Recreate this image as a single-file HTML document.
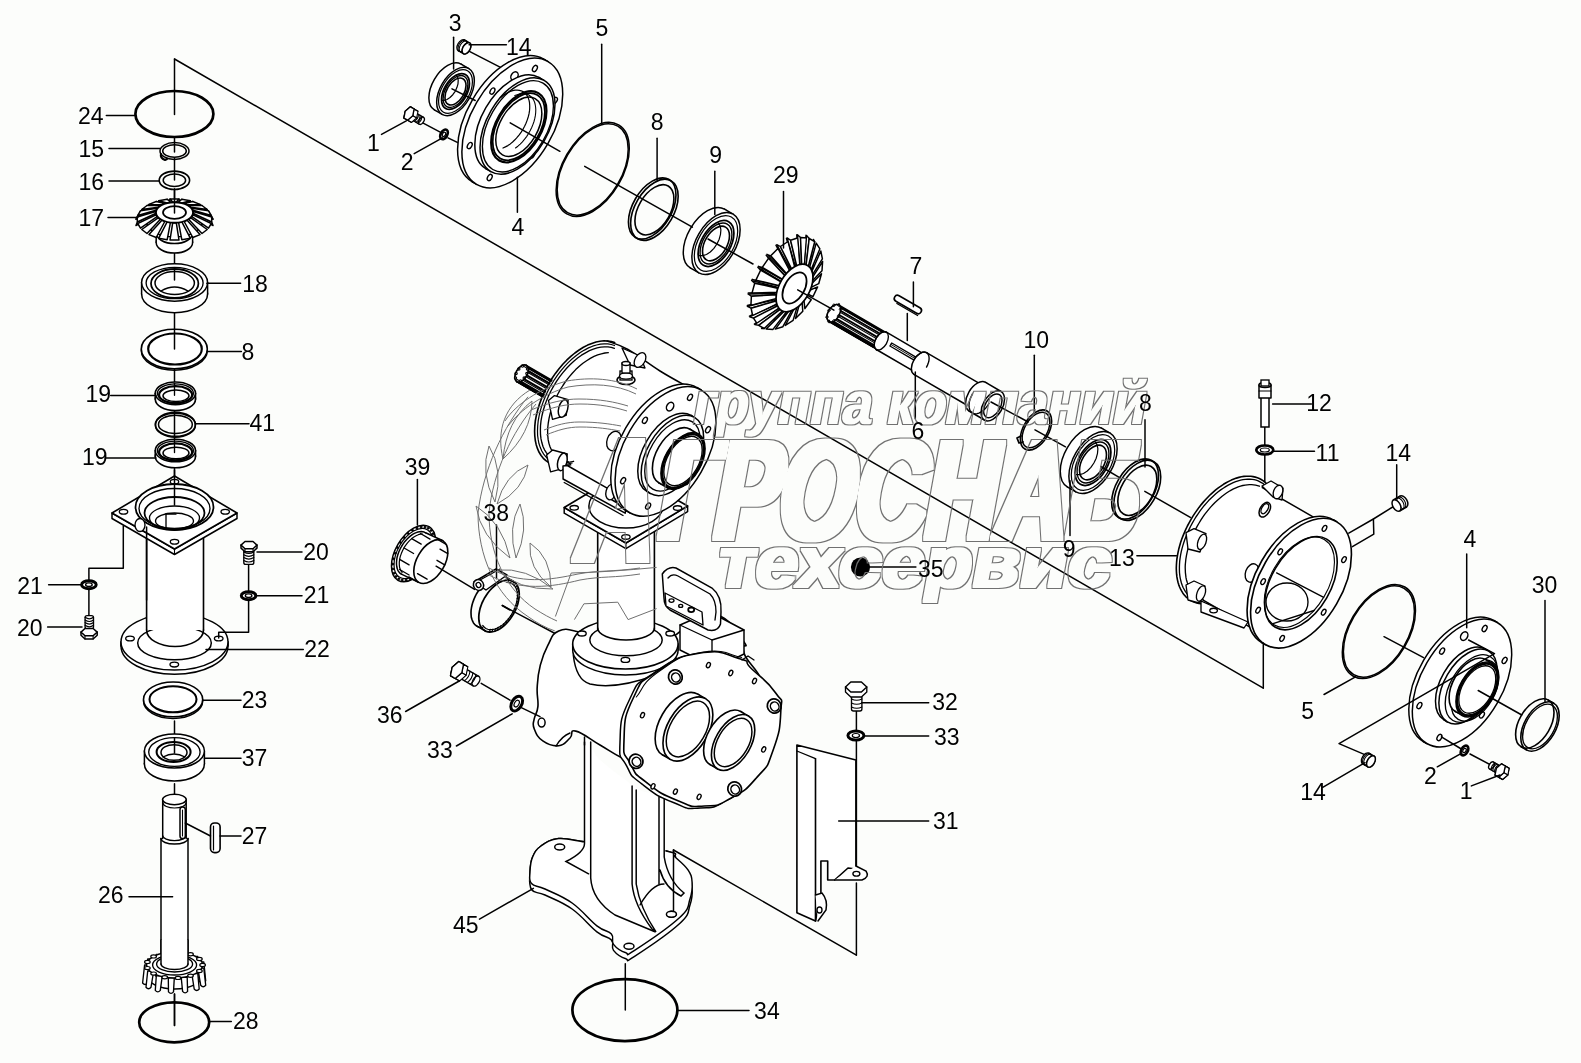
<!DOCTYPE html>
<html><head><meta charset="utf-8"><style>
html,body{margin:0;padding:0;background:#fcfdfb;}
svg{display:block;}
text{font-family:"Liberation Sans",sans-serif;font-size:23px;fill:#000;}
</style></head><body>
<svg width="1581" height="1063" viewBox="0 0 1581 1063">
<rect width="1581" height="1063" fill="#fcfdfb"/>
<g stroke-linecap="round">
<line x1="174.5" y1="59" x2="174.5" y2="114.4" stroke="#000" stroke-width="1.49" />
<line x1="174.5" y1="137" x2="174.5" y2="152" stroke="#000" stroke-width="1.49" />
<line x1="174.5" y1="158" x2="174.5" y2="180" stroke="#000" stroke-width="1.49" />
<line x1="174.5" y1="189" x2="174.5" y2="213" stroke="#000" stroke-width="1.49" />
<line x1="174.5" y1="253" x2="174.5" y2="280" stroke="#000" stroke-width="1.49" />
<line x1="174.5" y1="312" x2="174.5" y2="349" stroke="#000" stroke-width="1.49" />
<line x1="174.5" y1="369" x2="174.5" y2="530" stroke="#000" stroke-width="1.49" />
<line x1="174.5" y1="721" x2="174.5" y2="753.3" stroke="#000" stroke-width="1.49" />
<line x1="174.5" y1="783.8" x2="174.5" y2="800.4" stroke="#000" stroke-width="1.49" />
<line x1="174.5" y1="994" x2="174.5" y2="1025.4" stroke="#000" stroke-width="1.49" />
<ellipse cx="174.4" cy="114" rx="39" ry="23" stroke="#000" stroke-width="2.70" fill="none" />
<ellipse cx="174.5" cy="151" rx="14.5" ry="8.4" stroke="#000" stroke-width="1.49" fill="none" />
<ellipse cx="174.5" cy="151" rx="11.8" ry="6.3" stroke="#000" stroke-width="1.49" fill="none" />
<path d="M161,154 q-1,4 4,6 l2,-1" stroke="#000" stroke-width="2.16" fill="none" stroke-linejoin="round" />
<ellipse cx="174.4" cy="180.3" rx="15.2" ry="9.2" stroke="#000" stroke-width="1.62" fill="none" />
<ellipse cx="174.4" cy="180.3" rx="11.2" ry="6.2" stroke="#000" stroke-width="1.49" fill="none" />
<ellipse cx="174.4" cy="242.5" rx="18.2" ry="10.6" stroke="#000" stroke-width="1.49" fill="#fff" />
<rect x="156.2" y="233" width="36.4" height="9.5" fill="#fff"/>
<line x1="156.2" y1="233" x2="156.2" y2="242.5" stroke="#000" stroke-width="1.49" />
<line x1="192.6" y1="233" x2="192.6" y2="242.5" stroke="#000" stroke-width="1.49" />
<ellipse cx="174.4" cy="233" rx="18.2" ry="10.6" stroke="#000" stroke-width="1.49" fill="#fff" />
<ellipse cx="174.5" cy="221.5" rx="28" ry="15.4" stroke="#000" stroke-width="1.62" fill="#fff" />
<polygon points="176.3,202.1 179,199 180.1,201.3 176.9,203.4" stroke="#000" stroke-width="1.35" fill="#fff" stroke-linejoin="round" />
<polygon points="172.7,202.1 170,199 168.9,201.3 172.1,203.4" stroke="#000" stroke-width="1.35" fill="#fff" stroke-linejoin="round" />
<polygon points="172.7,202.1 170,199 179,199 176.3,202.1" stroke="#000" stroke-width="1.49" fill="#fff" stroke-linejoin="round" />
<polygon points="182,202.9 190.3,200.8 191.8,203.3 182.9,204.3" stroke="#000" stroke-width="1.35" fill="#fff" stroke-linejoin="round" />
<polygon points="178.6,202.3 181.8,199.3 181.1,201.4 178.4,203.5" stroke="#000" stroke-width="1.35" fill="#fff" stroke-linejoin="round" />
<polygon points="178.6,202.3 181.8,199.3 190.3,200.8 182,202.9" stroke="#000" stroke-width="1.49" fill="#fff" stroke-linejoin="round" />
<polygon points="170.4,202.3 167.2,199.3 167.9,201.4 170.6,203.5" stroke="#000" stroke-width="1.35" fill="#fff" stroke-linejoin="round" />
<polygon points="167,202.9 158.7,200.8 157.2,203.3 166.1,204.3" stroke="#000" stroke-width="1.35" fill="#fff" stroke-linejoin="round" />
<polygon points="167,202.9 158.7,200.8 167.2,199.3 170.4,202.3" stroke="#000" stroke-width="1.49" fill="#fff" stroke-linejoin="round" />
<polygon points="187.1,204.7 200,204.4 201.7,207.1 188.1,206.2" stroke="#000" stroke-width="1.35" fill="#fff" stroke-linejoin="round" />
<polygon points="184.2,203.5 192.8,201.5 192.6,203.5 184.2,204.7" stroke="#000" stroke-width="1.35" fill="#fff" stroke-linejoin="round" />
<polygon points="184.2,203.5 192.8,201.5 200,204.4 187.1,204.7" stroke="#000" stroke-width="1.49" fill="#fff" stroke-linejoin="round" />
<polygon points="164.8,203.5 156.2,201.5 156.4,203.5 164.8,204.7" stroke="#000" stroke-width="1.35" fill="#fff" stroke-linejoin="round" />
<polygon points="161.9,204.7 149,204.4 147.3,207.1 160.9,206.2" stroke="#000" stroke-width="1.35" fill="#fff" stroke-linejoin="round" />
<polygon points="161.9,204.7 149,204.4 156.2,201.5 164.8,203.5" stroke="#000" stroke-width="1.49" fill="#fff" stroke-linejoin="round" />
<polygon points="190.9,207.2 207.2,209.5 209,212.5 192,208.9" stroke="#000" stroke-width="1.35" fill="#fff" stroke-linejoin="round" />
<polygon points="188.8,205.6 202,205.5 202.4,207.5 189.2,206.8" stroke="#000" stroke-width="1.35" fill="#fff" stroke-linejoin="round" />
<polygon points="188.8,205.6 202,205.5 207.2,209.5 190.9,207.2" stroke="#000" stroke-width="1.49" fill="#fff" stroke-linejoin="round" />
<polygon points="160.2,205.6 147,205.5 146.6,207.5 159.8,206.8" stroke="#000" stroke-width="1.35" fill="#fff" stroke-linejoin="round" />
<polygon points="158.1,207.2 141.8,209.5 140,212.5 157,208.9" stroke="#000" stroke-width="1.35" fill="#fff" stroke-linejoin="round" />
<polygon points="158.1,207.2 141.8,209.5 147,205.5 160.2,205.6" stroke="#000" stroke-width="1.49" fill="#fff" stroke-linejoin="round" />
<polygon points="193,210.2 211.3,215.5 212.9,218.9 194.1,212.2" stroke="#000" stroke-width="1.35" fill="#fff" stroke-linejoin="round" />
<polygon points="191.9,208.3 208.5,210.8 209.5,213 192.6,209.7" stroke="#000" stroke-width="1.35" fill="#fff" stroke-linejoin="round" />
<polygon points="191.9,208.3 208.5,210.8 211.3,215.5 193,210.2" stroke="#000" stroke-width="1.49" fill="#fff" stroke-linejoin="round" />
<polygon points="157.1,208.3 140.5,210.8 139.5,213 156.4,209.7" stroke="#000" stroke-width="1.35" fill="#fff" stroke-linejoin="round" />
<polygon points="156,210.2 137.7,215.5 136.1,218.9 154.9,212.2" stroke="#000" stroke-width="1.35" fill="#fff" stroke-linejoin="round" />
<polygon points="156,210.2 137.7,215.5 140.5,210.8 157.1,208.3" stroke="#000" stroke-width="1.49" fill="#fff" stroke-linejoin="round" />
<polygon points="193.4,213.5 211.7,222 213.1,225.6 194.4,215.6" stroke="#000" stroke-width="1.35" fill="#fff" stroke-linejoin="round" />
<polygon points="193.4,211.5 211.7,217 213.1,219.4 194.4,213" stroke="#000" stroke-width="1.35" fill="#fff" stroke-linejoin="round" />
<polygon points="193.4,211.5 211.7,217 211.7,222 193.4,213.5" stroke="#000" stroke-width="1.49" fill="#fff" stroke-linejoin="round" />
<polygon points="155.6,211.5 137.3,217 135.9,219.4 154.6,213" stroke="#000" stroke-width="1.35" fill="#fff" stroke-linejoin="round" />
<polygon points="155.6,213.5 137.3,222 135.9,225.6 154.6,215.6" stroke="#000" stroke-width="1.35" fill="#fff" stroke-linejoin="round" />
<polygon points="155.6,213.5 137.3,222 137.3,217 155.6,211.5" stroke="#000" stroke-width="1.49" fill="#fff" stroke-linejoin="round" />
<polygon points="193,214.8 211.3,223.5 208.5,228.2 191.9,216.7" stroke="#000" stroke-width="1.49" fill="#fff" stroke-linejoin="round" />
<polygon points="157.1,216.7 140.5,228.2 137.7,223.5 156,214.8" stroke="#000" stroke-width="1.49" fill="#fff" stroke-linejoin="round" />
<polygon points="190.9,217.8 207.2,229.5 202,233.5 188.8,219.4" stroke="#000" stroke-width="1.49" fill="#fff" stroke-linejoin="round" />
<polygon points="160.2,219.4 147,233.5 141.8,229.5 158.1,217.8" stroke="#000" stroke-width="1.49" fill="#fff" stroke-linejoin="round" />
<polygon points="187.1,220.3 200,234.6 192.8,237.5 184.2,221.5" stroke="#000" stroke-width="1.49" fill="#fff" stroke-linejoin="round" />
<polygon points="164.8,221.5 156.2,237.5 149,234.6 161.9,220.3" stroke="#000" stroke-width="1.49" fill="#fff" stroke-linejoin="round" />
<polygon points="182,222.1 190.3,238.2 181.8,239.7 178.6,222.7" stroke="#000" stroke-width="1.49" fill="#fff" stroke-linejoin="round" />
<polygon points="170.4,222.7 167.2,239.7 158.7,238.2 167,222.1" stroke="#000" stroke-width="1.49" fill="#fff" stroke-linejoin="round" />
<polygon points="176.3,222.9 179,240 170,240 172.7,222.9" stroke="#000" stroke-width="1.49" fill="#fff" stroke-linejoin="round" />
<ellipse cx="174.5" cy="212.5" rx="18.5" ry="10.2" stroke="#000" stroke-width="1.76" fill="#fff" />
<ellipse cx="174.5" cy="212.5" rx="11.5" ry="6.3" stroke="#000" stroke-width="1.76" fill="#fff" />
<line x1="174.5" y1="189" x2="174.5" y2="213" stroke="#000" stroke-width="1.49" />
<ellipse cx="174.6" cy="294" rx="33" ry="18.7" stroke="#000" stroke-width="1.49" fill="#fff" />
<rect x="141.6" y="282.5" width="66" height="11.5" fill="#fff"/>
<line x1="141.6" y1="282.5" x2="141.6" y2="294" stroke="#000" stroke-width="1.49" />
<line x1="207.6" y1="282.5" x2="207.6" y2="294" stroke="#000" stroke-width="1.49" />
<ellipse cx="174.6" cy="282.5" rx="33" ry="18.7" stroke="#000" stroke-width="1.49" fill="#fff" />
<ellipse cx="174.6" cy="283" rx="28.5" ry="15.7" stroke="#000" stroke-width="1.35" fill="none" />
<ellipse cx="174.7" cy="283.5" rx="23.7" ry="14.5" stroke="#000" stroke-width="1.76" fill="none" />
<ellipse cx="174.7" cy="283" rx="19.7" ry="11.5" stroke="#000" stroke-width="1.49" fill="#fff" />
<path d="M161,291 Q174.5,283 188,291" stroke="#000" stroke-width="1.35" fill="none" stroke-linejoin="round" />
<line x1="174.5" y1="270" x2="174.5" y2="280" stroke="#000" stroke-width="1.49" />
<ellipse cx="174.3" cy="350.5" rx="33" ry="19.7" stroke="#000" stroke-width="1.49" fill="none" />
<ellipse cx="174.3" cy="349" rx="33" ry="19.7" stroke="#000" stroke-width="1.62" fill="#fff" />
<ellipse cx="175" cy="349" rx="26.8" ry="15.5" stroke="#000" stroke-width="2.16" fill="none" />
<line x1="174.5" y1="330" x2="174.5" y2="349" stroke="#000" stroke-width="1.49" />
<ellipse cx="175.4" cy="399.3" rx="20.1" ry="11.3" stroke="#000" stroke-width="1.62" fill="#fff" />
<rect x="155.3" y="393.3" width="40.2" height="6" fill="#fff"/>
<line x1="155.3" y1="393.3" x2="155.3" y2="399.3" stroke="#000" stroke-width="1.62" />
<line x1="195.5" y1="393.3" x2="195.5" y2="399.3" stroke="#000" stroke-width="1.62" />
<ellipse cx="175.4" cy="393.3" rx="20.1" ry="11.3" stroke="#000" stroke-width="1.62" fill="#fff" />
<ellipse cx="175.4" cy="393.3" rx="18" ry="9.4" stroke="#000" stroke-width="1.35" fill="none" />
<ellipse cx="175.6" cy="394.8" rx="16.5" ry="8.6" stroke="#000" stroke-width="2.16" fill="none" />
<ellipse cx="176" cy="395.8" rx="13" ry="5.8" stroke="#000" stroke-width="1.49" fill="#fff" />
<line x1="174.5" y1="383.3" x2="174.5" y2="395.3" stroke="#000" stroke-width="1.35" />
<ellipse cx="175.4" cy="456.5" rx="20.1" ry="11.3" stroke="#000" stroke-width="1.62" fill="#fff" />
<rect x="155.3" y="450.5" width="40.2" height="6" fill="#fff"/>
<line x1="155.3" y1="450.5" x2="155.3" y2="456.5" stroke="#000" stroke-width="1.62" />
<line x1="195.5" y1="450.5" x2="195.5" y2="456.5" stroke="#000" stroke-width="1.62" />
<ellipse cx="175.4" cy="450.5" rx="20.1" ry="11.3" stroke="#000" stroke-width="1.62" fill="#fff" />
<ellipse cx="175.4" cy="450.5" rx="18" ry="9.4" stroke="#000" stroke-width="1.35" fill="none" />
<ellipse cx="175.6" cy="452" rx="16.5" ry="8.6" stroke="#000" stroke-width="2.16" fill="none" />
<ellipse cx="176" cy="453" rx="13" ry="5.8" stroke="#000" stroke-width="1.49" fill="#fff" />
<line x1="174.5" y1="440.5" x2="174.5" y2="452.5" stroke="#000" stroke-width="1.35" />
<ellipse cx="175.4" cy="425.2" rx="20" ry="12" stroke="#000" stroke-width="1.49" fill="none" />
<ellipse cx="175.4" cy="424.4" rx="20" ry="12" stroke="#000" stroke-width="1.62" fill="none" />
<ellipse cx="175.4" cy="424.4" rx="16.9" ry="9.2" stroke="#000" stroke-width="1.49" fill="none" />
<ellipse cx="174.5" cy="646" rx="53.5" ry="28.3" stroke="#000" stroke-width="1.49" fill="#fff" />
<rect x="121" y="641.8" width="107" height="4.2" fill="#fff"/>
<line x1="121" y1="641.8" x2="121" y2="646" stroke="#000" stroke-width="1.49" />
<line x1="228" y1="641.8" x2="228" y2="646" stroke="#000" stroke-width="1.49" />
<ellipse cx="174.5" cy="641.8" rx="53.5" ry="28.3" stroke="#000" stroke-width="1.49" fill="#fff" />
<ellipse cx="174.5" cy="643" rx="36.8" ry="16.7" stroke="#000" stroke-width="1.49" fill="#fff" />
<ellipse cx="130" cy="638.5" rx="4.3" ry="2.4" stroke="#000" stroke-width="1.35" fill="#fff" />
<ellipse cx="218.7" cy="638.5" rx="4.3" ry="2.4" stroke="#000" stroke-width="1.35" fill="#fff" />
<ellipse cx="174.3" cy="664.6" rx="4.3" ry="2.4" stroke="#000" stroke-width="1.35" fill="#fff" />
<rect x="146.6" y="530" width="57" height="100" fill="#fff"/>
<line x1="146.6" y1="530" x2="146.6" y2="630" stroke="#000" stroke-width="1.62" />
<line x1="203.5" y1="530" x2="203.5" y2="630" stroke="#000" stroke-width="1.62" />
<path d="M146.6,630 A28.45,16.5 0 0 0 203.5,630" stroke="#000" stroke-width="1.62" fill="none" stroke-linejoin="round" />
<polygon points="112,513 112,518.5 174.5,554.5 237,518.5 237,513 174.5,549" stroke="#000" stroke-width="1.49" fill="#fff" stroke-linejoin="round" />
<line x1="174.5" y1="549" x2="174.5" y2="554.5" stroke="#000" stroke-width="1.08" />
<polygon points="174.5,476 112,513 174.5,549 237,513" stroke="#000" stroke-width="1.62" fill="#fff" stroke-linejoin="round" />
<ellipse cx="123.5" cy="511.7" rx="4.2" ry="2.4" stroke="#000" stroke-width="1.35" fill="#fff" />
<ellipse cx="225.2" cy="511.7" rx="4.2" ry="2.4" stroke="#000" stroke-width="1.35" fill="#fff" />
<ellipse cx="174.5" cy="481.7" rx="4.2" ry="2.4" stroke="#000" stroke-width="1.35" fill="#fff" />
<ellipse cx="174.5" cy="541.7" rx="4.2" ry="2.4" stroke="#000" stroke-width="1.35" fill="#fff" />
<ellipse cx="174.5" cy="507" rx="39" ry="23" stroke="#000" stroke-width="1.76" fill="#fff" />
<ellipse cx="174.5" cy="508.5" rx="35.5" ry="20" stroke="#000" stroke-width="1.35" fill="none" />
<ellipse cx="174.5" cy="513" rx="30" ry="16" stroke="#000" stroke-width="1.76" fill="none" />
<ellipse cx="174.5" cy="518" rx="25" ry="12" stroke="#000" stroke-width="1.35" fill="none" />
<ellipse cx="174.5" cy="521" rx="19" ry="8" stroke="#000" stroke-width="1.35" fill="none" />
<ellipse cx="140" cy="525" rx="5" ry="6.5" stroke="#000" stroke-width="1.35" fill="#fff" />
<line x1="174.5" y1="470" x2="174.5" y2="505" stroke="#000" stroke-width="1.49" />
<line x1="166" y1="514" x2="166" y2="528" stroke="#000" stroke-width="1.35" />
<line x1="166" y1="514" x2="176" y2="514" stroke="#000" stroke-width="1.35" />
<line x1="146.6" y1="527" x2="146.6" y2="600" stroke="#000" stroke-width="1.49" />
<polyline points="123.3,526 123.3,568.2 88.9,568.2 88.9,580.7" stroke="#000" stroke-width="1.49" fill="none" stroke-linejoin="round" />
<line x1="88.9" y1="588.7" x2="88.9" y2="615.6" stroke="#000" stroke-width="1.49" />
<line x1="248.6" y1="564.4" x2="248.6" y2="591.7" stroke="#000" stroke-width="1.49" />
<polyline points="248.6,599.7 248.6,632.3 218.7,632.3 218.7,638" stroke="#000" stroke-width="1.49" fill="none" stroke-linejoin="round" />
<ellipse cx="88.9" cy="584.7" rx="7.3" ry="4" stroke="#000" stroke-width="2.97" fill="#fff" />
<ellipse cx="88.9" cy="584.7" rx="3.3" ry="1.8" stroke="#000" stroke-width="1.35" fill="#fff" />
<ellipse cx="248.6" cy="595.7" rx="7.3" ry="4" stroke="#000" stroke-width="2.97" fill="#fff" />
<ellipse cx="248.6" cy="595.7" rx="3.3" ry="1.8" stroke="#000" stroke-width="1.35" fill="#fff" />
<rect x="85.1" y="615.6" width="8.4" height="13.4" fill="#fff" stroke="#000" stroke-width="1.35" rx="2"/>
<path d="M85.1,617.3 Q89.3,620.3 93.5,617.3" stroke="#000" stroke-width="1.22" fill="none" stroke-linejoin="round" />
<path d="M85.1,620 Q89.3,623 93.5,620" stroke="#000" stroke-width="1.22" fill="none" stroke-linejoin="round" />
<path d="M85.1,622.6 Q89.3,625.6 93.5,622.6" stroke="#000" stroke-width="1.22" fill="none" stroke-linejoin="round" />
<path d="M85.1,625.3 Q89.3,628.3 93.5,625.3" stroke="#000" stroke-width="1.22" fill="none" stroke-linejoin="round" />
<polygon points="81,632.1 81,635.3 85,639 93.1,639 97.2,635.3 97.2,632.1" stroke="#000" stroke-width="1.49" fill="#fff" stroke-linejoin="round" />
<polygon points="81,632.1 85,628.5 93.1,628.5 97.2,632.1 93.1,635.8 85,635.8" stroke="#000" stroke-width="1.49" fill="#fff" stroke-linejoin="round" />
<line x1="85" y1="635.8" x2="85" y2="639" stroke="#000" stroke-width="1.08" />
<line x1="93.1" y1="635.8" x2="93.1" y2="639" stroke="#000" stroke-width="1.08" />
<rect x="243.8" y="550" width="10" height="14.4" fill="#fff" stroke="#000" stroke-width="1.35" rx="2"/>
<path d="M243.8,551.9 Q248.8,554.9 253.8,551.9" stroke="#000" stroke-width="1.22" fill="none" stroke-linejoin="round" />
<path d="M243.8,554.8 Q248.8,557.8 253.8,554.8" stroke="#000" stroke-width="1.22" fill="none" stroke-linejoin="round" />
<path d="M243.8,557.6 Q248.8,560.6 253.8,557.6" stroke="#000" stroke-width="1.22" fill="none" stroke-linejoin="round" />
<path d="M243.8,560.5 Q248.8,563.5 253.8,560.5" stroke="#000" stroke-width="1.22" fill="none" stroke-linejoin="round" />
<polygon points="241,545.1 241,548.1 245,551.7 253,551.7 257,548.1 257,545.1" stroke="#000" stroke-width="1.49" fill="#fff" stroke-linejoin="round" />
<polygon points="241,545.1 245,541.5 253,541.5 257,545.1 253,548.7 245,548.7" stroke="#000" stroke-width="1.49" fill="#fff" stroke-linejoin="round" />
<line x1="245" y1="548.7" x2="245" y2="551.7" stroke="#000" stroke-width="1.08" />
<line x1="253" y1="548.7" x2="253" y2="551.7" stroke="#000" stroke-width="1.08" />
<ellipse cx="173.1" cy="701" rx="29.6" ry="17.4" stroke="#000" stroke-width="1.49" fill="none" />
<ellipse cx="173.1" cy="699.4" rx="29.6" ry="17.4" stroke="#000" stroke-width="1.62" fill="#fff" />
<ellipse cx="173" cy="699.3" rx="23.5" ry="13" stroke="#000" stroke-width="2.03" fill="none" />
<ellipse cx="174.4" cy="764" rx="30" ry="17" stroke="#000" stroke-width="1.49" fill="#fff" />
<rect x="144.4" y="751" width="60" height="13" fill="#fff"/>
<line x1="144.4" y1="751" x2="144.4" y2="764" stroke="#000" stroke-width="1.49" />
<line x1="204.4" y1="751" x2="204.4" y2="764" stroke="#000" stroke-width="1.49" />
<ellipse cx="174.4" cy="751" rx="30" ry="17" stroke="#000" stroke-width="1.49" fill="#fff" />
<ellipse cx="174.4" cy="752" rx="25.7" ry="14.4" stroke="#000" stroke-width="1.35" fill="none" />
<ellipse cx="173.6" cy="752" rx="17" ry="10" stroke="#000" stroke-width="2.03" fill="none" />
<ellipse cx="174" cy="752.5" rx="13" ry="7.8" stroke="#000" stroke-width="1.49" fill="#fff" />
<path d="M163,757 Q174,751 185,757" stroke="#000" stroke-width="1.35" fill="none" stroke-linejoin="round" />
<line x1="174.5" y1="738" x2="174.5" y2="753" stroke="#000" stroke-width="1.49" />
<rect x="161" y="838" width="27" height="128" fill="#fff"/>
<line x1="161" y1="838.6" x2="161" y2="966" stroke="#000" stroke-width="1.49" />
<line x1="188" y1="838.6" x2="188" y2="966" stroke="#000" stroke-width="1.49" />
<rect x="162.7" y="799.5" width="23.5" height="39" fill="#fff"/>
<line x1="162.7" y1="799.5" x2="162.7" y2="838.6" stroke="#000" stroke-width="1.49" />
<line x1="186.2" y1="799.5" x2="186.2" y2="838.6" stroke="#000" stroke-width="1.49" />
<path d="M161,838.6 A13.5,5.5 0 0 0 188,838.6" stroke="#000" stroke-width="1.49" fill="none" stroke-linejoin="round" />
<path d="M162.7,835.6 A11.75,5 0 0 0 186.2,835.6" stroke="#000" stroke-width="1.22" fill="none" stroke-linejoin="round" />
<ellipse cx="174.4" cy="799.5" rx="11.8" ry="5.2" stroke="#000" stroke-width="1.49" fill="#fff" />
<path d="M163,803 A11.5,5 0 0 0 186,803" stroke="#000" stroke-width="1.22" fill="none" stroke-linejoin="round" />
<rect x="180" y="807" width="5.3" height="31.6" rx="2.6" fill="#fff" stroke="#000" stroke-width="1.49"/>
<line x1="182.5" y1="810" x2="182.5" y2="836" stroke="#000" stroke-width="1.08" />
<rect x="210.5" y="823" width="9.6" height="29.6" rx="4" fill="#fff" stroke="#000" stroke-width="1.62"/>
<line x1="213.5" y1="826" x2="213.5" y2="850" stroke="#000" stroke-width="1.22" />
<ellipse cx="174.6" cy="975" rx="28" ry="14" stroke="#000" stroke-width="1.49" fill="#fff" />
<path d="M168.3,952.1 L168.5,974.1 Q171,977.1 173.5,974.1 L174.3,952.1 Z" stroke="#000" stroke-width="1.35" fill="#fff" stroke-linejoin="round" />
<path d="M181.2,952.8 L182.6,974.6 Q185.1,977.6 187.6,974.6 L187.2,952.8 Z" stroke="#000" stroke-width="1.35" fill="#fff" stroke-linejoin="round" />
<path d="M156.3,954.3 L155.3,975.6 Q157.8,978.6 160.3,975.6 L162.3,954.3 Z" stroke="#000" stroke-width="1.35" fill="#fff" stroke-linejoin="round" />
<path d="M191.8,956.4 L194.2,977 Q196.7,980 199.2,977 L197.8,956.4 Z" stroke="#000" stroke-width="1.35" fill="#fff" stroke-linejoin="round" />
<path d="M147.7,959 L146,978.8 Q148.5,981.8 151,978.8 L153.7,959 Z" stroke="#000" stroke-width="1.35" fill="#fff" stroke-linejoin="round" />
<path d="M197.8,961.9 L200.7,980.8 Q203.2,983.8 205.7,980.8 L203.8,961.9 Z" stroke="#000" stroke-width="1.35" fill="#fff" stroke-linejoin="round" />
<path d="M144.6,965 L142.6,983 Q145.1,986 147.6,983 L150.6,965 Z" stroke="#000" stroke-width="1.35" fill="#fff" stroke-linejoin="round" />
<path d="M197.8,968.1 L200.7,985.2 Q203.2,988.2 205.7,985.2 L203.8,968.1 Z" stroke="#000" stroke-width="1.35" fill="#fff" stroke-linejoin="round" />
<path d="M147.7,971 L146,987.2 Q148.5,990.2 151,987.2 L153.7,971 Z" stroke="#000" stroke-width="1.35" fill="#fff" stroke-linejoin="round" />
<path d="M191.8,973.6 L194.2,989 Q196.7,992 199.2,989 L197.8,973.6 Z" stroke="#000" stroke-width="1.35" fill="#fff" stroke-linejoin="round" />
<path d="M156.3,975.7 L155.3,990.4 Q157.8,993.4 160.3,990.4 L162.3,975.7 Z" stroke="#000" stroke-width="1.35" fill="#fff" stroke-linejoin="round" />
<path d="M181.2,977.2 L182.6,991.4 Q185.1,994.4 187.6,991.4 L187.2,977.2 Z" stroke="#000" stroke-width="1.35" fill="#fff" stroke-linejoin="round" />
<path d="M168.3,977.9 L168.5,991.9 Q171,994.9 173.5,991.9 L174.3,977.9 Z" stroke="#000" stroke-width="1.35" fill="#fff" stroke-linejoin="round" />
<ellipse cx="174.6" cy="965" rx="28" ry="13" stroke="#000" stroke-width="1.49" fill="#fff" />
<ellipse cx="202.6" cy="965" rx="2.8" ry="1.6" stroke="#000" stroke-width="1.22" fill="#fff" />
<ellipse cx="199.4" cy="971" rx="2.8" ry="1.6" stroke="#000" stroke-width="1.22" fill="#fff" />
<ellipse cx="190.5" cy="975.7" rx="2.8" ry="1.6" stroke="#000" stroke-width="1.22" fill="#fff" />
<ellipse cx="178" cy="977.9" rx="2.8" ry="1.6" stroke="#000" stroke-width="1.22" fill="#fff" />
<ellipse cx="164.7" cy="977.2" rx="2.8" ry="1.6" stroke="#000" stroke-width="1.22" fill="#fff" />
<ellipse cx="153.6" cy="973.6" rx="2.8" ry="1.6" stroke="#000" stroke-width="1.22" fill="#fff" />
<ellipse cx="147.4" cy="968.1" rx="2.8" ry="1.6" stroke="#000" stroke-width="1.22" fill="#fff" />
<ellipse cx="147.4" cy="961.9" rx="2.8" ry="1.6" stroke="#000" stroke-width="1.22" fill="#fff" />
<ellipse cx="153.6" cy="956.4" rx="2.8" ry="1.6" stroke="#000" stroke-width="1.22" fill="#fff" />
<ellipse cx="164.7" cy="952.8" rx="2.8" ry="1.6" stroke="#000" stroke-width="1.22" fill="#fff" />
<ellipse cx="178" cy="952.1" rx="2.8" ry="1.6" stroke="#000" stroke-width="1.22" fill="#fff" />
<ellipse cx="190.5" cy="954.3" rx="2.8" ry="1.6" stroke="#000" stroke-width="1.22" fill="#fff" />
<ellipse cx="199.4" cy="959" rx="2.8" ry="1.6" stroke="#000" stroke-width="1.22" fill="#fff" />
<ellipse cx="174.6" cy="965" rx="22" ry="10" stroke="#000" stroke-width="1.35" fill="#fff" />
<ellipse cx="174.6" cy="964" rx="18" ry="8" stroke="#000" stroke-width="1.35" fill="#fff" />
<rect x="161" y="940" width="27" height="24" fill="#fff"/>
<line x1="161" y1="940" x2="161" y2="964" stroke="#000" stroke-width="1.49" />
<line x1="188" y1="940" x2="188" y2="964" stroke="#000" stroke-width="1.49" />
<path d="M161,964 A13.5,5.5 0 0 0 188,964" stroke="#000" stroke-width="1.49" fill="none" stroke-linejoin="round" />
<line x1="174.5" y1="994" x2="174.5" y2="1025.4" stroke="#000" stroke-width="1.49" />
<ellipse cx="174.2" cy="1022.3" rx="35" ry="20" stroke="#000" stroke-width="2.70" fill="none" />
<line x1="423.2" y1="123.1" x2="440.2" y2="132.1" stroke="#000" stroke-width="1.49" />
<line x1="448" y1="137.8" x2="459.4" y2="143.4" stroke="#000" stroke-width="1.49" />
<line x1="468.4" y1="50.8" x2="503.4" y2="68.9" stroke="#000" stroke-width="1.49" />
<ellipse cx="461.3" cy="45.3" rx="6.2" ry="3.6" stroke="#000" stroke-width="1.35" fill="#fff" transform="rotate(-59.8 461.3 45.3)" />
<polygon points="469.6,42.9 464.4,39.9 458.2,50.6 463.4,53.7" stroke="#000" stroke-width="0.00" fill="#fff" stroke-linejoin="round" stroke="none"/>
<line x1="469.6" y1="42.9" x2="464.4" y2="39.9" stroke="#000" stroke-width="1.35" />
<line x1="463.4" y1="53.7" x2="458.2" y2="50.6" stroke="#000" stroke-width="1.35" />
<ellipse cx="466.5" cy="48.3" rx="6.2" ry="3.6" stroke="#000" stroke-width="1.35" fill="#fff" transform="rotate(-59.8 466.5 48.3)" />
<ellipse cx="463.6" cy="46.6" rx="6.2" ry="3.6" stroke="#000" stroke-width="1.08" fill="none" transform="rotate(-59.8 463.6 46.6)" />
<ellipse cx="462.4" cy="45.9" rx="6.2" ry="3.6" stroke="#000" stroke-width="1.08" fill="none" transform="rotate(-59.8 462.4 45.9)" />
<ellipse cx="466.5" cy="48.3" rx="6.2" ry="3.6" stroke="#000" stroke-width="1.49" fill="#fff" transform="rotate(-59.8 466.5 48.3)" />
<polygon points="414.9,112.3 423.5,117.3 419.5,124.3 410.9,119.2" stroke="#000" stroke-width="1.35" fill="#fff" stroke-linejoin="round" />
<ellipse cx="421.5" cy="120.8" rx="4" ry="2.3" stroke="#000" stroke-width="1.35" fill="#fff" transform="rotate(-59.8 421.5 120.8)" />
<path d="M416.6,113.3 Q416.8,118 412.6,120.2" stroke="#000" stroke-width="1.08" fill="none" stroke-linejoin="round" />
<path d="M418.4,114.3 Q418.5,119 414.3,121.2" stroke="#000" stroke-width="1.08" fill="none" stroke-linejoin="round" />
<path d="M420.1,115.3 Q420.2,120 416.1,122.2" stroke="#000" stroke-width="1.08" fill="none" stroke-linejoin="round" />
<path d="M421.8,116.3 Q422,121 417.8,123.2" stroke="#000" stroke-width="1.08" fill="none" stroke-linejoin="round" />
<polygon points="414.1,109 412.8,115.7 407.6,120.2 403.9,118 405.2,111.3 410.4,106.8" stroke="#000" stroke-width="1.35" fill="#fff" stroke-linejoin="round" />
<polygon points="414.1,109 418,111.2 416.6,118 412.8,115.7" stroke="#000" stroke-width="1.08" fill="#fff" stroke-linejoin="round" />
<polygon points="412.8,115.7 416.6,118 411.5,122.5 407.6,120.2" stroke="#000" stroke-width="1.08" fill="#fff" stroke-linejoin="round" />
<polygon points="407.6,120.2 411.5,122.5 407.7,120.3 403.9,118" stroke="#000" stroke-width="1.08" fill="#fff" stroke-linejoin="round" />
<polygon points="403.9,118 407.7,120.3 409.1,113.6 405.2,111.3" stroke="#000" stroke-width="1.08" fill="#fff" stroke-linejoin="round" />
<polygon points="405.2,111.3 409.1,113.6 414.3,109.1 410.4,106.8" stroke="#000" stroke-width="1.08" fill="#fff" stroke-linejoin="round" />
<polygon points="410.4,106.8 414.3,109.1 418,111.2 414.1,109" stroke="#000" stroke-width="1.08" fill="#fff" stroke-linejoin="round" />
<polygon points="414.1,109 412.8,115.7 407.6,120.2 403.9,118 405.2,111.3 410.4,106.8" stroke="#000" stroke-width="1.35" fill="#fff" stroke-linejoin="round" />
<ellipse cx="444" cy="134.4" rx="5.2" ry="3.2" stroke="#000" stroke-width="2.70" fill="#fff" transform="rotate(-59.8 444 134.4)" />
<ellipse cx="444" cy="134.4" rx="2.3" ry="1.5" stroke="#000" stroke-width="1.22" fill="#fff" transform="rotate(-59.8 444 134.4)" />
<ellipse cx="447.7" cy="87" rx="26.5" ry="15.4" stroke="#000" stroke-width="1.49" fill="#fff" transform="rotate(-59.8 447.7 87)" />
<polygon points="468.8,68.6 461.1,64.1 434.4,109.9 442.2,114.4" stroke="#000" stroke-width="0.00" fill="#fff" stroke-linejoin="round" stroke="none"/>
<line x1="468.8" y1="68.6" x2="461.1" y2="64.1" stroke="#000" stroke-width="1.49" />
<line x1="442.2" y1="114.4" x2="434.4" y2="109.9" stroke="#000" stroke-width="1.49" />
<ellipse cx="455.5" cy="91.5" rx="26.5" ry="15.4" stroke="#000" stroke-width="1.49" fill="#fff" transform="rotate(-59.8 455.5 91.5)" />
<ellipse cx="455.5" cy="91.5" rx="23.9" ry="13.8" stroke="#000" stroke-width="1.22" fill="none" transform="rotate(-59.8 455.5 91.5)" />
<ellipse cx="455.5" cy="91.5" rx="19.6" ry="11.4" stroke="#000" stroke-width="1.76" fill="none" transform="rotate(-59.8 455.5 91.5)" />
<ellipse cx="455.5" cy="91.5" rx="17.5" ry="10.1" stroke="#000" stroke-width="1.35" fill="none" transform="rotate(-59.8 455.5 91.5)" />
<ellipse cx="455.5" cy="91.5" rx="14.8" ry="8.6" stroke="#000" stroke-width="1.62" fill="#fff" transform="rotate(-59.8 455.5 91.5)" />
<polyline points="456.3,75 457.6,77.2 458.2,80.2 458,83.8 456.9,87.6 455.2,91.3 452.8,94.7 450,97.5 447,99.5 444.1,100.4 441.5,100.3" stroke="#000" stroke-width="1.22" fill="none" stroke-linejoin="round" />
<ellipse cx="508" cy="120.5" rx="71" ry="41.2" stroke="#000" stroke-width="1.49" fill="#fff" transform="rotate(-59.8 508 120.5)" />
<polygon points="548,61.6 543.7,59.1 472.3,181.8 476.6,184.4" stroke="#000" stroke-width="0.00" fill="#fff" stroke-linejoin="round" stroke="none"/>
<line x1="548" y1="61.6" x2="543.7" y2="59.1" stroke="#000" stroke-width="1.49" />
<line x1="476.6" y1="184.4" x2="472.3" y2="181.8" stroke="#000" stroke-width="1.49" />
<ellipse cx="512.3" cy="123" rx="71" ry="41.2" stroke="#000" stroke-width="1.49" fill="#fff" transform="rotate(-59.8 512.3 123)" />
<ellipse cx="534.9" cy="68.5" rx="3.4" ry="2.1" stroke="#000" stroke-width="1.35" fill="#fff" transform="rotate(-59.8 534.9 68.5)" />
<ellipse cx="554.9" cy="100.4" rx="3.4" ry="2.1" stroke="#000" stroke-width="1.35" fill="#fff" transform="rotate(-59.8 554.9 100.4)" />
<ellipse cx="532.2" cy="154.9" rx="3.4" ry="2.1" stroke="#000" stroke-width="1.35" fill="#fff" transform="rotate(-59.8 532.2 154.9)" />
<ellipse cx="489.7" cy="177.5" rx="3.4" ry="2.1" stroke="#000" stroke-width="1.35" fill="#fff" transform="rotate(-59.8 489.7 177.5)" />
<ellipse cx="469.7" cy="145.6" rx="3.4" ry="2.1" stroke="#000" stroke-width="1.35" fill="#fff" transform="rotate(-59.8 469.7 145.6)" />
<ellipse cx="492.4" cy="91.1" rx="3.4" ry="2.1" stroke="#000" stroke-width="1.35" fill="#fff" transform="rotate(-59.8 492.4 91.1)" />
<ellipse cx="514.5" cy="76.1" rx="4.6" ry="3.3" stroke="#000" stroke-width="1.49" fill="#fff" transform="rotate(-59.8 514.5 76.1)" />
<ellipse cx="512.3" cy="123" rx="52.8" ry="30.6" stroke="#000" stroke-width="1.49" fill="#fff" transform="rotate(-59.8 512.3 123)" />
<polygon points="544,80.4 538.9,77.4 485.7,168.6 490.9,171.7" stroke="#000" stroke-width="0.00" fill="#fff" stroke-linejoin="round" stroke="none"/>
<line x1="544" y1="80.4" x2="538.9" y2="77.4" stroke="#000" stroke-width="1.49" />
<line x1="490.9" y1="171.7" x2="485.7" y2="168.6" stroke="#000" stroke-width="1.49" />
<ellipse cx="517.5" cy="126" rx="52.8" ry="30.6" stroke="#000" stroke-width="1.49" fill="#fff" transform="rotate(-59.8 517.5 126)" />
<ellipse cx="517.9" cy="126.3" rx="50" ry="29" stroke="#000" stroke-width="1.35" fill="none" transform="rotate(-59.8 517.9 126.3)" />
<ellipse cx="518.8" cy="126.8" rx="39" ry="22.6" stroke="#000" stroke-width="2.16" fill="#fff" transform="rotate(-59.8 518.8 126.8)" />
<ellipse cx="518.8" cy="126.8" rx="36.8" ry="21.3" stroke="#000" stroke-width="1.76" fill="none" transform="rotate(-59.8 518.8 126.8)" />
<ellipse cx="518.8" cy="126.8" rx="32.5" ry="18.8" stroke="#000" stroke-width="1.49" fill="#fff" transform="rotate(-59.8 518.8 126.8)" />
<polyline points="500.7,97.5 503.1,95.5 505.5,93.9 507.9,92.5 510.3,91.4 512.7,90.7 515,90.2 517.2,90.1 519.3,90.3 521.2,90.8 523,91.6 524.6,92.8 526.1,94.2 527.3,95.9 528.2,97.9 529,100.1 529.5,102.6 529.7,105.2 529.7,108 529.5,110.9 529,113.9 528.2,117 527.2,120.1 526,123.2 524.6,126.2 523,129.2 521.2,132.1 519.2,134.8 517.1,137.4 514.9,139.8 512.6,142 510.3,143.9 507.9,145.6 505.4,146.9 503,148" stroke="#000" stroke-width="1.22" fill="none" stroke-linejoin="round" />
<polyline points="514.8,95.6 517.2,94.7 519.5,94 521.8,93.7 524,93.6 526,93.9 527.9,94.6 529.6,95.5 531.2,96.8 532.5,98.3 533.7,100.1 534.6,102.2 535.2,104.5 535.6,107 535.8,109.6 535.7,112.5 535.4,115.4 534.8,118.4 534,121.5 532.9,124.6 531.6,127.7 530.1,130.8 528.4,133.7 526.6,136.6 524.6,139.2 522.4,141.8 520.2,144.1 517.9,146.2 515.5,148" stroke="#000" stroke-width="1.08" fill="none" stroke-linejoin="round" />
<ellipse cx="592.7" cy="169.4" rx="51.5" ry="29.9" stroke="#000" stroke-width="1.49" fill="none" transform="rotate(-59.8 592.7 169.4)" />
<ellipse cx="592.7" cy="169.4" rx="50" ry="29" stroke="#000" stroke-width="1.49" fill="none" transform="rotate(-59.8 592.7 169.4)" />
<ellipse cx="652.2" cy="208.5" rx="33.5" ry="19.4" stroke="#000" stroke-width="1.62" fill="none" transform="rotate(-59.8 652.2 208.5)" />
<ellipse cx="654.4" cy="209.8" rx="33.5" ry="19.4" stroke="#000" stroke-width="1.62" fill="none" transform="rotate(-59.8 654.4 209.8)" />
<ellipse cx="654.4" cy="209.8" rx="27.5" ry="15.9" stroke="#000" stroke-width="1.62" fill="none" transform="rotate(-59.8 654.4 209.8)" />
<ellipse cx="707.4" cy="238.5" rx="34" ry="19.7" stroke="#000" stroke-width="1.49" fill="#fff" transform="rotate(-59.8 707.4 238.5)" />
<polygon points="733.1,214.1 724.5,209.1 690.3,267.9 698.9,272.9" stroke="#000" stroke-width="0.00" fill="#fff" stroke-linejoin="round" stroke="none"/>
<line x1="733.1" y1="214.1" x2="724.5" y2="209.1" stroke="#000" stroke-width="1.49" />
<line x1="698.9" y1="272.9" x2="690.3" y2="267.9" stroke="#000" stroke-width="1.49" />
<ellipse cx="716" cy="243.5" rx="34" ry="19.7" stroke="#000" stroke-width="1.49" fill="#fff" transform="rotate(-59.8 716 243.5)" />
<ellipse cx="716" cy="243.5" rx="30.6" ry="17.7" stroke="#000" stroke-width="1.22" fill="none" transform="rotate(-59.8 716 243.5)" />
<ellipse cx="716" cy="243.5" rx="25.2" ry="14.6" stroke="#000" stroke-width="1.76" fill="none" transform="rotate(-59.8 716 243.5)" />
<ellipse cx="716" cy="243.5" rx="22.4" ry="13" stroke="#000" stroke-width="1.35" fill="none" transform="rotate(-59.8 716 243.5)" />
<ellipse cx="716" cy="243.5" rx="19" ry="11" stroke="#000" stroke-width="1.62" fill="#fff" transform="rotate(-59.8 716 243.5)" />
<polyline points="718.3,223.1 720.1,225.9 720.9,229.8 720.5,234.3 719.2,239.2 716.9,244 713.9,248.4 710.3,252 706.5,254.5 702.8,255.7 699.4,255.6" stroke="#000" stroke-width="1.22" fill="none" stroke-linejoin="round" />
<ellipse cx="783.3" cy="281.5" rx="42" ry="24.4" stroke="#000" stroke-width="1.62" fill="#fff" transform="rotate(-59.8 783.3 281.5)" />
<polygon points="785.1,276 768.5,258.3 766.1,255.2 783.6,274.2" stroke="#000" stroke-width="1.35" fill="#fff" stroke-linejoin="round" />
<polygon points="782.7,279.5 762.3,267.3 758.4,266.3 780.4,278.7" stroke="#000" stroke-width="1.35" fill="#fff" stroke-linejoin="round" />
<polygon points="782.7,279.5 762.3,267.3 768.5,258.3 785.1,276" stroke="#000" stroke-width="1.49" fill="#fff" stroke-linejoin="round" />
<polygon points="781.3,282 760.6,270.2 757.8,267.3 779.5,280.3" stroke="#000" stroke-width="1.35" fill="#fff" stroke-linejoin="round" />
<polygon points="779.4,285.8 755.9,280.1 752,279.5 777.1,285.3" stroke="#000" stroke-width="1.35" fill="#fff" stroke-linejoin="round" />
<polygon points="779.4,285.8 755.9,280.1 760.6,270.2 781.3,282" stroke="#000" stroke-width="1.49" fill="#fff" stroke-linejoin="round" />
<polygon points="789.8,271 778,248.5 775.9,245.2 788.4,269.1" stroke="#000" stroke-width="1.35" fill="#fff" stroke-linejoin="round" />
<polygon points="786.9,273.9 770.7,255.8 766.9,254.3 784.7,272.8" stroke="#000" stroke-width="1.35" fill="#fff" stroke-linejoin="round" />
<polygon points="786.9,273.9 770.7,255.8 778,248.5 789.8,271" stroke="#000" stroke-width="1.49" fill="#fff" stroke-linejoin="round" />
<polygon points="778.5,288.4 754.7,283.2 751.5,280.6 776.5,287" stroke="#000" stroke-width="1.35" fill="#fff" stroke-linejoin="round" />
<polygon points="777.4,292.3 752,293.1 748.2,293 775.1,292.1" stroke="#000" stroke-width="1.35" fill="#fff" stroke-linejoin="round" />
<polygon points="777.4,292.3 752,293.1 754.7,283.2 778.5,288.4" stroke="#000" stroke-width="1.49" fill="#fff" stroke-linejoin="round" />
<polygon points="794.8,267.4 788.1,241.5 786.4,238.3 793.7,265.5" stroke="#000" stroke-width="1.35" fill="#fff" stroke-linejoin="round" />
<polygon points="791.8,269.4 780.4,246.5 776.8,244.6 789.7,268.1" stroke="#000" stroke-width="1.35" fill="#fff" stroke-linejoin="round" />
<polygon points="791.8,269.4 780.4,246.5 788.1,241.5 794.8,267.4" stroke="#000" stroke-width="1.49" fill="#fff" stroke-linejoin="round" />
<polygon points="777,294.8 751.4,296.2 748,294 774.8,293.6" stroke="#000" stroke-width="1.35" fill="#fff" stroke-linejoin="round" />
<polygon points="776.7,298.4 750.9,305.4 747.3,305.5 774.5,298.4" stroke="#000" stroke-width="1.35" fill="#fff" stroke-linejoin="round" />
<polygon points="776.7,298.4 750.9,305.4 751.4,296.2 777,294.8" stroke="#000" stroke-width="1.49" fill="#fff" stroke-linejoin="round" />
<polygon points="776.9,300.7 751.1,308.2 747.3,306.5 774.6,299.8" stroke="#000" stroke-width="1.35" fill="#fff" stroke-linejoin="round" />
<polygon points="777.5,303.7 752.7,316 749.4,316.2 775.4,303.8" stroke="#000" stroke-width="1.35" fill="#fff" stroke-linejoin="round" />
<polygon points="777.5,303.7 752.7,316 751.1,308.2 776.9,300.7" stroke="#000" stroke-width="1.49" fill="#fff" stroke-linejoin="round" />
<polygon points="799.8,265.5 798.2,237.8 796.7,234.8 798.8,263.6" stroke="#000" stroke-width="1.35" fill="#fff" stroke-linejoin="round" />
<polygon points="796.8,266.4 790.6,240.3 787.2,237.9 794.9,264.8" stroke="#000" stroke-width="1.35" fill="#fff" stroke-linejoin="round" />
<polygon points="796.8,266.4 790.6,240.3 798.2,237.8 799.8,265.5" stroke="#000" stroke-width="1.49" fill="#fff" stroke-linejoin="round" />
<polygon points="804.3,265.4 807.3,237.9 806,235.2 803.5,263.6" stroke="#000" stroke-width="1.35" fill="#fff" stroke-linejoin="round" />
<polygon points="801.7,265.2 800.5,237.5 797.5,234.7 800,263.4" stroke="#000" stroke-width="1.35" fill="#fff" stroke-linejoin="round" />
<polygon points="801.7,265.2 800.5,237.5 807.3,237.9 804.3,265.4" stroke="#000" stroke-width="1.49" fill="#fff" stroke-linejoin="round" />
<polygon points="778.2,305.5 753.5,318.1 749.7,316.9 775.9,304.9" stroke="#000" stroke-width="1.35" fill="#fff" stroke-linejoin="round" />
<polygon points="779.7,307.7 757.3,323.8 754.3,324 777.8,307.9" stroke="#000" stroke-width="1.35" fill="#fff" stroke-linejoin="round" />
<polygon points="779.7,307.7 757.3,323.8 753.5,318.1 778.2,305.5" stroke="#000" stroke-width="1.49" fill="#fff" stroke-linejoin="round" />
<polygon points="808.1,267.1 814.7,241.7 813.5,239.4 807.4,265.6" stroke="#000" stroke-width="1.35" fill="#fff" stroke-linejoin="round" />
<polygon points="806,265.8 809.2,238.5 806.6,235.4 804.5,263.9" stroke="#000" stroke-width="1.35" fill="#fff" stroke-linejoin="round" />
<polygon points="806,265.8 809.2,238.5 814.7,241.7 808.1,267.1" stroke="#000" stroke-width="1.49" fill="#fff" stroke-linejoin="round" />
<polygon points="780.9,308.9 758.7,325.3 754.8,324.5 778.5,308.6" stroke="#000" stroke-width="1.35" fill="#fff" stroke-linejoin="round" />
<polygon points="783,310.2 764.2,328.5 761.6,328.5 781.4,310.3" stroke="#000" stroke-width="1.35" fill="#fff" stroke-linejoin="round" />
<polygon points="783,310.2 764.2,328.5 758.7,325.3 780.9,308.9" stroke="#000" stroke-width="1.49" fill="#fff" stroke-linejoin="round" />
<polygon points="809.3,268.3 816.2,243.1 819.9,248.8 810.8,270.5" stroke="#000" stroke-width="1.49" fill="#fff" stroke-linejoin="round" />
<polygon points="787.3,310.8 773,329.4 766.2,329 784.7,310.6" stroke="#000" stroke-width="1.49" fill="#fff" stroke-linejoin="round" />
<polygon points="811.5,272.3 820.8,251 822.4,258.8 812.1,275.3" stroke="#000" stroke-width="1.49" fill="#fff" stroke-linejoin="round" />
<polygon points="792.2,309.6 782.9,326.7 775.3,329.1 789.2,310.5" stroke="#000" stroke-width="1.49" fill="#fff" stroke-linejoin="round" />
<polygon points="812.3,277.6 822.6,261.5 822,270.7 812,281.2" stroke="#000" stroke-width="1.49" fill="#fff" stroke-linejoin="round" />
<polygon points="797.2,306.6 793.1,320.4 785.3,325.5 794.2,308.6" stroke="#000" stroke-width="1.49" fill="#fff" stroke-linejoin="round" />
<polygon points="811.6,283.7 821.5,273.8 818.7,283.7 810.5,287.6" stroke="#000" stroke-width="1.49" fill="#fff" stroke-linejoin="round" />
<polygon points="802.1,302.1 802.8,311.2 795.5,318.5 799.2,305" stroke="#000" stroke-width="1.49" fill="#fff" stroke-linejoin="round" />
<polygon points="809.6,290.2 817.6,286.9 812.9,296.7 807.7,294" stroke="#000" stroke-width="1.49" fill="#fff" stroke-linejoin="round" />
<polygon points="806.3,296.5 811.2,299.7 804.9,308.6 803.9,300" stroke="#000" stroke-width="1.49" fill="#fff" stroke-linejoin="round" />
<ellipse cx="794.5" cy="288" rx="26" ry="15.1" stroke="#000" stroke-width="1.76" fill="#fff" transform="rotate(-59.8 794.5 288)" />
<ellipse cx="794.5" cy="288" rx="17" ry="9.9" stroke="#000" stroke-width="1.76" fill="#fff" transform="rotate(-59.8 794.5 288)" />
<line x1="673.5" y1="850" x2="856.4" y2="955.1" stroke="#000" stroke-width="1.49" />
<line x1="673.5" y1="850" x2="673.5" y2="913" stroke="#000" stroke-width="1.49" />
<path d="M558.6,838.6 C549.9,839.5 546.2,842.3 541,846 C535.8,849.7 534.7,852.1 532.5,857.3 C530.3,862.5 530.2,865.4 530,871.8 C529.8,878.2 528.5,884.9 531.5,889.5 C534.5,894.1 536.9,891.1 545,895 C553.1,898.9 561.7,901.6 572.1,909 C582.5,916.4 589,925.6 596.9,931.8 C604.8,938 608.1,936.3 611.4,940 C614.7,943.7 610.6,946.7 613.5,950.4 C616.4,954.1 621.8,957.5 625.9,958.7 C630,959.9 623.4,963.6 634.2,956.6 C645,949.6 668.5,933.8 679.7,923.5 C690.9,913.2 687.5,911.9 690,904.9 C692.5,897.9 692.5,894.1 692.1,888.3 C691.7,882.5 691.3,880.9 688,875.9 C684.7,870.9 679.7,868.4 675.6,863.5 C671.5,858.6 682.4,855.8 667.3,851.3 C652.2,846.8 616.6,842.9 600,841 C583.4,839.1 592.8,842.2 584.5,841.7 C576.2,841.2 567.3,837.7 558.6,838.6 Z" stroke="#000" stroke-width="1.49" fill="#fff" stroke-linejoin="round" />
<path d="M558.6,838.6 C549.9,839.5 546.2,842.3 541,846 C535.8,849.7 534.7,852.1 532.5,857.3 C530.3,862.5 530.2,866.6 530,871.8 C529.8,877 528.5,880.1 531.5,883.5 C534.5,886.9 536.9,885.1 545,889 C553.1,892.9 561.7,895.6 572.1,903 C582.5,910.4 589,919.6 596.9,925.8 C604.8,932 608.1,930.3 611.4,934 C614.7,937.7 610.6,940.7 613.5,944.4 C616.4,948.1 621.8,951.5 625.9,952.7 C630,953.9 623.4,957.6 634.2,950.6 C645,943.6 668.5,927.8 679.7,917.5 C690.9,907.2 687.5,905.9 690,898.9 C692.5,891.9 692.5,888.1 692.1,882.3 C691.7,876.5 691.3,874.9 688,869.9 C684.7,864.9 679.7,861.2 675.6,857.5 C671.5,853.8 682.4,854.6 667.3,851.3 C652.2,848 616.6,842.9 600,841 C583.4,839.1 592.8,842.2 584.5,841.7 C576.2,841.2 567.3,837.7 558.6,838.6 Z" stroke="#000" stroke-width="1.49" fill="#fff" stroke-linejoin="round" />
<ellipse cx="559.7" cy="847" rx="5" ry="3" stroke="#000" stroke-width="1.49" fill="#fff" />
<ellipse cx="671.4" cy="914.2" rx="5" ry="3" stroke="#000" stroke-width="1.49" fill="#fff" />
<ellipse cx="629" cy="946.3" rx="5" ry="3" stroke="#000" stroke-width="1.49" fill="#fff" />
<path d="M584.5,742 C582.4,753.1 583.9,824.9 584.5,843 C585.1,861.1 586.9,870.4 589,878 C591.1,885.6 594.5,894.1 600,900 C605.5,905.9 622.7,917.6 630,922 C637.3,926.4 650.2,933.9 655,933 C659.8,932.1 662.1,919.9 666,915 C669.9,910.1 682.1,900.1 684,896 C685.9,891.9 682.4,888.8 680,884 C677.6,879.2 668.1,871.2 666,860 C663.9,848.8 667.5,809.3 664,800 C660.5,790.7 648.5,795.3 640,790 C631.5,784.7 607.4,766.4 600,760 C592.6,753.6 586.6,730.9 584.5,742 Z" stroke="#000" stroke-width="0.00" fill="#fff" stroke-linejoin="round" />
<path d="M584.5,742 L584.5,843 Q585,852 566,861.5 L588.6,873.8" stroke="#000" stroke-width="1.49" fill="none"/>
<path d="M590.7,742 L590.7,878 Q592,900 615,915 L654.9,931.8" stroke="#000" stroke-width="1.49" fill="none"/>
<path d="M632.1,786 L632.1,884 Q634,905 652,929 L656,932 Q640,908 636.2,884 L636.2,790" stroke="#000" stroke-width="1.49" fill="#fff"/>
<path d="M659,797 L659,884 M664.2,797 L664.2,857 Q668,880 684,893 L681,896 Q665,888 660,870" stroke="#000" stroke-width="1.49" fill="none"/>
<path d="M640,905 Q652,884 664,884" stroke="#000" stroke-width="1.35" fill="none"/>
<line x1="673.5" y1="850" x2="673.5" y2="911" stroke="#000" stroke-width="1.49" />
<ellipse cx="671.4" cy="914.2" rx="5" ry="3" stroke="#000" stroke-width="1.49" fill="#fff" />
<line x1="502.3" y1="605.5" x2="556" y2="634" stroke="#000" stroke-width="1.49" />
<path d="M600,640 C581.1,638.1 588.6,634.1 579,632 C569.4,629.9 566,627.7 558.7,630.9 C551.4,634.1 552,637.6 547.7,645.6 C543.4,653.6 542.8,655.4 540.3,665.1 C537.8,674.8 537.8,677.4 537.2,687.1 C536.6,696.8 538.6,699.3 537.9,706.7 C537.2,714.1 535.1,713.8 534.2,718.9 C533.3,724 532.2,723.6 534.2,728.7 C536.2,733.8 537.1,736.9 542.8,740.9 C548.5,744.9 552.4,746.5 558.7,745.8 C565,745.1 566,741.4 570,738 C574,734.6 568.8,729.5 575.8,731.1 C582.8,732.7 589.2,738.7 600,745 C610.8,751.3 610.5,752.2 622.2,758 C633.9,763.8 631.8,769.5 650,770 C668.2,770.5 674.3,776.3 700,760 C725.7,743.7 749.7,725 760,700 C770.3,675 747.7,666.5 744,653 C740.3,639.5 750.2,650.9 744,642 C737.8,633.1 730.2,619 717.6,615 C705,611 703.4,619.2 690,625 C676.6,630.8 681,636.5 660,640 C639,643.5 618.9,641.9 600,640 Z" stroke="#000" stroke-width="1.62" fill="#fff" stroke-linejoin="round" />
<ellipse cx="541.6" cy="722.6" rx="3.5" ry="4.5" stroke="#000" stroke-width="1.49" fill="#fff" />
<path d="M556,746 Q562,736 570,733" stroke="#000" stroke-width="1.35" fill="none"/>
<path d="M573.3,655 Q576,680 590,684 Q615,690 656,675 Q670,668 676,658" stroke="#000" stroke-width="1.49" fill="none"/>
<line x1="584.5" y1="737" x2="584.5" y2="745" stroke="#000" stroke-width="1.49" />
<polygon points="680,625 710,612 744,630 744,654 716,668 680,650" stroke="#000" stroke-width="1.49" fill="#fff" stroke-linejoin="round" />
<polyline points="680,625 712,640 744,630" stroke="#000" stroke-width="1.35" fill="none" stroke-linejoin="round" />
<line x1="712" y1="640" x2="712" y2="668" stroke="#000" stroke-width="1.35" />
<path d="M662.3,574 Q668,566 676,568 L712,588 Q722,596 721,612 L720.5,624 Q718,632 708,630 L670,610 Q664,606 664,598 Z" stroke="#000" stroke-width="1.49" fill="#fff"/>
<path d="M668,578 Q672,573 678,576 L710,594 Q716,600 716,612 L715,620" stroke="#000" stroke-width="1.35" fill="none"/>
<polygon points="665,593 702,612 703,625 666,606" stroke="#000" stroke-width="1.35" fill="#fff" stroke-linejoin="round" />
<ellipse cx="671.5" cy="600.6" rx="2.5" ry="1.8" stroke="#000" stroke-width="1.35" fill="#fff" />
<ellipse cx="680.7" cy="605.9" rx="2" ry="1.5" stroke="#000" stroke-width="1.35" fill="#fff" />
<ellipse cx="691.2" cy="609.8" rx="3" ry="2.3" stroke="#000" stroke-width="1.76" fill="#fff" />
<ellipse cx="625.4" cy="650" rx="52.7" ry="25" stroke="#000" stroke-width="1.49" fill="#fff" />
<rect x="572.7" y="644" width="105.4" height="6" fill="#fff"/>
<line x1="572.7" y1="644" x2="572.7" y2="650" stroke="#000" stroke-width="1.49" />
<line x1="678.1" y1="644" x2="678.1" y2="650" stroke="#000" stroke-width="1.49" />
<ellipse cx="625.4" cy="644" rx="52.7" ry="25" stroke="#000" stroke-width="1.62" fill="#fff" />
<ellipse cx="626" cy="640" rx="36.2" ry="15.8" stroke="#000" stroke-width="1.49" fill="#fff" />
<ellipse cx="581.9" cy="633.5" rx="4.3" ry="2.5" stroke="#000" stroke-width="1.35" fill="#fff" />
<ellipse cx="670.2" cy="633.5" rx="4.3" ry="2.5" stroke="#000" stroke-width="1.35" fill="#fff" />
<ellipse cx="625.4" cy="659.9" rx="4.3" ry="2.5" stroke="#000" stroke-width="1.35" fill="#fff" />
<rect x="597.7" y="530" width="56.7" height="100" fill="#fff"/>
<line x1="597.7" y1="530" x2="597.7" y2="630" stroke="#000" stroke-width="1.62" />
<line x1="654.4" y1="530" x2="654.4" y2="630" stroke="#000" stroke-width="1.62" />
<path d="M597.7,628 A28.35,12 0 0 0 654.4,628" stroke="#000" stroke-width="1.49" fill="none"/>
<path d="M620,742.2 C620.8,722.4 619.4,720.5 629.3,700 C639.2,679.5 633.3,687.1 653,673.7 C672.7,660.3 670.6,659.3 695.1,655.3 C719.6,651.3 718.9,655.8 734.7,660.5 C750.5,665.2 736.8,660.7 747.8,671 C758.8,681.3 762.8,682.1 771.5,694.8 C780.2,707.5 777.6,695.8 776.8,713.2 C776,730.6 776,732.9 768.9,752.7 C761.8,772.5 765.7,764.9 753.1,779.1 C740.5,793.4 742.6,791.5 726.8,800.2 C711,808.9 716.2,807.2 700.4,808 C684.6,808.8 691.4,809.9 674,802.8 C656.6,795.7 656.6,795.5 642.4,784.4 C628.2,773.3 633.3,778.6 626.6,765.9 C619.9,753.2 619.2,762 620,742.2 Z" stroke="#000" stroke-width="1.49" fill="#fff" stroke-linejoin="round" />
<path d="M624,740.2 C624.8,720.4 623.4,718.5 633.3,698 C643.2,677.5 637.3,685.1 657,671.7 C676.7,658.3 674.6,657.3 699.1,653.3 C723.6,649.3 722.9,653.8 738.7,658.5 C754.5,663.2 740.8,658.7 751.8,669 C762.8,679.3 766.8,680.1 775.5,692.8 C784.2,705.5 781.6,693.8 780.8,711.2 C780,728.6 780,730.9 772.9,750.7 C765.8,770.5 769.7,762.9 757.1,777.1 C744.5,791.4 746.6,789.5 730.8,798.2 C715,806.9 720.2,805.2 704.4,806 C688.6,806.8 695.4,807.9 678,800.8 C660.6,793.7 660.6,793.5 646.4,782.4 C632.2,771.3 637.3,776.6 630.6,763.9 C623.9,751.2 623.2,760 624,740.2 Z" stroke="#000" stroke-width="1.62" fill="#fff" stroke-linejoin="round" />
<path d="M636.3,697 C643.4,689.1 640.3,684.1 660,670.7 C679.7,657.3 677.6,656.3 702.1,652.3 C726.6,648.3 729.8,655.9 741.7,657.5" stroke="#000" stroke-width="1.08" fill="none" stroke-linejoin="round" />
<ellipse cx="680.1" cy="724.5" rx="35.1" ry="20.4" stroke="#000" stroke-width="1.62" fill="#fff" transform="rotate(-59.8 680.1 724.5)" />
<polygon points="705.5,698.7 697.8,694.1 662.5,754.8 670.2,759.3" stroke="#000" stroke-width="0.00" fill="#fff" stroke-linejoin="round" stroke="none"/>
<line x1="705.5" y1="698.7" x2="697.8" y2="694.1" stroke="#000" stroke-width="1.62" />
<line x1="670.2" y1="759.3" x2="662.5" y2="754.8" stroke="#000" stroke-width="1.62" />
<ellipse cx="687.9" cy="729" rx="35.1" ry="20.4" stroke="#000" stroke-width="1.62" fill="#fff" transform="rotate(-59.8 687.9 729)" />
<ellipse cx="687.9" cy="729" rx="30.5" ry="17.7" stroke="#000" stroke-width="1.49" fill="none" transform="rotate(-59.8 687.9 729)" />
<ellipse cx="725.3" cy="738" rx="30.6" ry="17.7" stroke="#000" stroke-width="1.62" fill="#fff" transform="rotate(-59.8 725.3 738)" />
<polygon points="748.5,716.1 740.7,711.5 709.9,764.4 717.7,769" stroke="#000" stroke-width="0.00" fill="#fff" stroke-linejoin="round" stroke="none"/>
<line x1="748.5" y1="716.1" x2="740.7" y2="711.5" stroke="#000" stroke-width="1.62" />
<line x1="717.7" y1="769" x2="709.9" y2="764.4" stroke="#000" stroke-width="1.62" />
<ellipse cx="733.1" cy="742.5" rx="30.6" ry="17.7" stroke="#000" stroke-width="1.62" fill="#fff" transform="rotate(-59.8 733.1 742.5)" />
<ellipse cx="733.1" cy="742.5" rx="26.5" ry="15.4" stroke="#000" stroke-width="1.49" fill="none" transform="rotate(-59.8 733.1 742.5)" />
<ellipse cx="675.4" cy="677" rx="6.8" ry="7.2" stroke="#000" stroke-width="1.76" fill="#fff" transform="rotate(-30 675.4 677)" />
<ellipse cx="675.9" cy="677.5" rx="4.2" ry="4.6" stroke="#000" stroke-width="1.49" fill="#fff" transform="rotate(-30 675.9 677.5)" />
<ellipse cx="774.2" cy="706" rx="6.8" ry="7.2" stroke="#000" stroke-width="1.76" fill="#fff" transform="rotate(-30 774.2 706)" />
<ellipse cx="774.7" cy="706.5" rx="4.2" ry="4.6" stroke="#000" stroke-width="1.49" fill="#fff" transform="rotate(-30 774.7 706.5)" />
<ellipse cx="636" cy="761.3" rx="6.8" ry="7.2" stroke="#000" stroke-width="1.76" fill="#fff" transform="rotate(-30 636 761.3)" />
<ellipse cx="636.5" cy="761.8" rx="4.2" ry="4.6" stroke="#000" stroke-width="1.49" fill="#fff" transform="rotate(-30 636.5 761.8)" />
<ellipse cx="734.7" cy="789" rx="6.8" ry="7.2" stroke="#000" stroke-width="1.76" fill="#fff" transform="rotate(-30 734.7 789)" />
<ellipse cx="735.2" cy="789.5" rx="4.2" ry="4.6" stroke="#000" stroke-width="1.49" fill="#fff" transform="rotate(-30 735.2 789.5)" />
<ellipse cx="708.4" cy="665.1" rx="1.8" ry="2.8" stroke="#000" stroke-width="1.35" fill="#fff" transform="rotate(25 708.4 665.1)" />
<ellipse cx="730.8" cy="673" rx="1.8" ry="2.8" stroke="#000" stroke-width="1.35" fill="#fff" transform="rotate(25 730.8 673)" />
<ellipse cx="754.5" cy="681" rx="1.8" ry="2.8" stroke="#000" stroke-width="1.35" fill="#fff" transform="rotate(25 754.5 681)" />
<ellipse cx="642.5" cy="715.2" rx="1.8" ry="2.8" stroke="#000" stroke-width="1.35" fill="#fff" transform="rotate(25 642.5 715.2)" />
<ellipse cx="763.7" cy="749.4" rx="1.8" ry="2.8" stroke="#000" stroke-width="1.35" fill="#fff" transform="rotate(25 763.7 749.4)" />
<ellipse cx="653" cy="786.3" rx="1.8" ry="2.8" stroke="#000" stroke-width="1.35" fill="#fff" transform="rotate(25 653 786.3)" />
<ellipse cx="675.4" cy="791.6" rx="1.8" ry="2.8" stroke="#000" stroke-width="1.35" fill="#fff" transform="rotate(25 675.4 791.6)" />
<ellipse cx="699.1" cy="796.8" rx="1.8" ry="2.8" stroke="#000" stroke-width="1.35" fill="#fff" transform="rotate(25 699.1 796.8)" />
<polyline points="742,660 748,656 754,660" stroke="#000" stroke-width="1.35" fill="none" stroke-linejoin="round" />
<polygon points="564.2,507.5 564.2,513.2 625.9,548.7 687.6,511.7 687.6,506 625.9,543" stroke="#000" stroke-width="1.49" fill="#fff" stroke-linejoin="round" />
<line x1="625.9" y1="543" x2="625.9" y2="548.7" stroke="#000" stroke-width="1.22" />
<polygon points="625.9,470.5 564.2,507.5 625.9,543 687.6,506" stroke="#000" stroke-width="1.62" fill="#fff" stroke-linejoin="round" />
<ellipse cx="574.2" cy="507.8" rx="4.2" ry="2.3" stroke="#000" stroke-width="1.35" fill="#fff" />
<ellipse cx="625.9" cy="536.9" rx="4.2" ry="2.3" stroke="#000" stroke-width="1.35" fill="#fff" />
<ellipse cx="677.6" cy="508" rx="4.2" ry="2.3" stroke="#000" stroke-width="1.35" fill="#fff" />
<ellipse cx="625.9" cy="506" rx="37" ry="22" stroke="#000" stroke-width="1.49" fill="#fff" />
<polygon points="526.3,365.3 560.8,385.4 551.3,401.8 516.7,381.7" stroke="#000" stroke-width="1.49" fill="#fff" stroke-linejoin="round" />
<line x1="527.9" y1="367.3" x2="555.5" y2="383.4" stroke="#000" stroke-width="2.03" />
<line x1="528.2" y1="368.5" x2="555.8" y2="384.6" stroke="#000" stroke-width="1.08" />
<line x1="528.2" y1="371" x2="555.8" y2="387.1" stroke="#000" stroke-width="2.03" />
<line x1="527.8" y1="372.5" x2="555.5" y2="388.6" stroke="#000" stroke-width="1.08" />
<line x1="526.8" y1="375.3" x2="554.5" y2="391.4" stroke="#000" stroke-width="2.03" />
<line x1="526" y1="376.8" x2="553.6" y2="392.8" stroke="#000" stroke-width="1.08" />
<line x1="524.2" y1="379.1" x2="551.8" y2="395.2" stroke="#000" stroke-width="2.03" />
<line x1="523" y1="380.2" x2="550.7" y2="396.3" stroke="#000" stroke-width="1.08" />
<line x1="520.9" y1="381.6" x2="548.5" y2="397.7" stroke="#000" stroke-width="2.03" />
<line x1="519.7" y1="382" x2="547.3" y2="398.1" stroke="#000" stroke-width="1.08" />
<line x1="518.3" y1="382.2" x2="545.9" y2="398.3" stroke="#000" stroke-width="2.03" />
<line x1="517.3" y1="382" x2="544.9" y2="398.1" stroke="#000" stroke-width="1.08" />
<ellipse cx="521.5" cy="373.5" rx="9.5" ry="5.5" stroke="#000" stroke-width="1.62" fill="#fff" transform="rotate(-59.8 521.5 373.5)" />
<ellipse cx="525.8" cy="366.2" rx="1.2" ry="1.2" stroke="#000" stroke-width="1.08" fill="none" />
<ellipse cx="527.5" cy="369" rx="1.2" ry="1.2" stroke="#000" stroke-width="1.08" fill="none" />
<ellipse cx="526.9" cy="373.6" rx="1.2" ry="1.2" stroke="#000" stroke-width="1.08" fill="none" />
<ellipse cx="524.2" cy="378.1" rx="1.2" ry="1.2" stroke="#000" stroke-width="1.08" fill="none" />
<ellipse cx="520.5" cy="380.9" rx="1.2" ry="1.2" stroke="#000" stroke-width="1.08" fill="none" />
<ellipse cx="517.2" cy="380.8" rx="1.2" ry="1.2" stroke="#000" stroke-width="1.08" fill="none" />
<ellipse cx="515.5" cy="378" rx="1.2" ry="1.2" stroke="#000" stroke-width="1.08" fill="none" />
<ellipse cx="516.1" cy="373.4" rx="1.2" ry="1.2" stroke="#000" stroke-width="1.08" fill="none" />
<ellipse cx="518.8" cy="368.9" rx="1.2" ry="1.2" stroke="#000" stroke-width="1.08" fill="none" />
<ellipse cx="522.5" cy="366.1" rx="1.2" ry="1.2" stroke="#000" stroke-width="1.08" fill="none" />
<path d="M595.5,344.4 C593.8,345 589.1,346.6 587.5,347.3 C585.8,348.1 580.9,350.9 579.3,352 C577.7,353.1 572.8,356.8 571.2,358.2 C569.7,359.6 565,364.2 563.6,365.8 C562.1,367.4 557.8,372.7 556.5,374.5 C555.1,376.4 551.4,382.2 550.2,384.1 C549.1,386.1 545.9,392.3 545,394.3 C544,396.4 541.5,402.7 540.9,404.8 C540.2,406.9 538.5,413.2 538,415.2 C537.6,417.3 536.8,423.4 536.6,425.3 C536.5,427.3 536.5,432.9 536.6,434.7 C536.7,436.5 537.6,441.6 538,443.2 C538.4,444.7 540.1,449.1 540.8,450.4 C541.5,451.7 543.9,455.2 544.9,456.2 C545.8,457.2 549.7,459.5 550.1,460.4 C550.5,461.4 547,463.5 548.5,465.4 C550,467.3 559.9,476 565,479 C570.1,482 594,491.7 600,495 C606,498.3 621.5,509.7 625.5,511.8 C629.5,513.9 636,522 640,516 C644,510 660.5,464.3 665.5,451.4 C670.5,438.5 690.5,395 690,387 C689.5,379 666.2,374.8 660,371 C653.8,367.2 633.5,352.5 628,349.5 C622.5,346.5 608.2,341.5 605,341 C601.8,340.5 597.3,343.7 595.5,344.4 Z" stroke="#000" stroke-width="0.00" fill="#fff" stroke-linejoin="round" />
<path d="M607,341 C611.2,342.7 617.4,343.5 628,349.5 C638.6,355.5 647.6,363.3 660,371 C672.4,378.7 684,384.6 690,388" stroke="#000" stroke-width="1.49" fill="none" stroke-linejoin="round" />
<polyline points="614.7,342.6 611.3,341.5 607.7,341 604,340.8 600,341.2 596,342 591.8,343.4 587.6,345.1 583.4,347.3 579.1,350 574.9,353 570.8,356.4 566.7,360.2 562.8,364.3 559,368.7 555.4,373.4 552.1,378.3 548.9,383.4 546,388.6 543.4,394 541.2,399.4 539.2,404.9 537.6,410.3 536.3,415.7 535.3,421 534.8,426.2 534.6,431.2 534.8,436 535.3,440.5 536.2,444.7 537.5,448.7 539.1,452.3 541.1,455.5 543.3,458.3 545.9,460.7 548.8,462.7 551.9,464.2 555.3,465.3 558.9,465.8 562.6,466 566.6,465.6 570.6,464.8" stroke="#000" stroke-width="1.62" fill="none" stroke-linejoin="round" />
<polyline points="614.5,345.5 611.3,344.5 607.8,343.9 604.2,343.8 600.4,344.2 596.5,345 592.6,346.2 588.5,347.9 584.4,350.1 580.3,352.6 576.3,355.5 572.3,358.8 568.4,362.4 564.6,366.4 561,370.6 557.5,375.1 554.3,379.8 551.3,384.7 548.5,389.8 546,394.9 543.8,400.2 541.9,405.4 540.3,410.7 539.1,415.8 538.2,420.9 537.7,425.9 537.5,430.7 537.6,435.3 538.2,439.7 539,443.8 540.3,447.6 541.8,451 543.7,454.1 545.9,456.8 548.4,459.2 551.1,461 554.1,462.5 557.4,463.5 560.8,464.1 564.5,464.2 568.2,463.8 572.1,463" stroke="#000" stroke-width="1.22" fill="none" stroke-linejoin="round" />
<polyline points="614.4,348.4 611.3,347.4 608,346.9 604.5,346.8 600.8,347.1 597.1,347.9 593.3,349.1 589.4,350.7 585.5,352.8 581.5,355.2 577.6,358 573.8,361.2 570,364.7 566.4,368.5 562.9,372.6 559.6,376.9 556.5,381.4 553.6,386.1 550.9,391 548.5,395.9 546.4,400.9 544.6,406 543.1,411 541.9,416 541,420.9 540.5,425.7 540.4,430.3 540.5,434.7 541,438.9 541.9,442.8 543,446.5 544.5,449.8 546.3,452.7 548.4,455.4 550.8,457.6 553.5,459.4 556.4,460.8 559.5,461.8 562.8,462.3 566.3,462.4 569.9,462.1 573.6,461.3" stroke="#000" stroke-width="1.35" fill="none" stroke-linejoin="round" />
<polyline points="608.3,352.7 604.9,353 601.3,353.8 597.7,354.9 594,356.4 590.3,358.4 586.6,360.7 582.9,363.3 579.3,366.3 575.7,369.6 572.3,373.2 569,377.1 565.8,381.2 562.9,385.5 560.1,389.9 557.6,394.5 555.4,399.2 553.4,403.9 551.6,408.7 550.2,413.5 549.1,418.2 548.3,422.8 547.8,427.3 547.6,431.7 547.8,435.9 548.2,439.9 549,443.6 550.1,447 551.6,450.2 553.3,453 555.3,455.5 557.5,457.6 560,459.3 562.8,460.6 565.7,461.5 568.8,462" stroke="#000" stroke-width="1.35" fill="none" stroke-linejoin="round" />
<polygon points="548.5,400.6 554.5,395.6 568.2,399.6 566.2,415.3 552.5,419.3" stroke="#000" stroke-width="1.35" fill="#fff" stroke-linejoin="round" />
<ellipse cx="563.2" cy="408.5" rx="4.5" ry="9" stroke="#000" stroke-width="1.49" fill="#fff" transform="rotate(15 563.2 408.5)" />
<polygon points="546.6,455 552.6,450 567.3,454 565.3,467.8 550.6,471.8" stroke="#000" stroke-width="1.35" fill="#fff" stroke-linejoin="round" />
<ellipse cx="562.3" cy="461.9" rx="4.5" ry="9" stroke="#000" stroke-width="1.49" fill="#fff" transform="rotate(15 562.3 461.9)" />
<polygon points="563,466 567.3,465.5 607.6,488.3 607,497 626,508 625.2,513.2 563.1,479" stroke="#000" stroke-width="1.49" fill="#fff" stroke-linejoin="round" />
<line x1="564.2" y1="482.5" x2="623" y2="515.5" stroke="#000" stroke-width="1.35" />
<ellipse cx="611" cy="492" rx="5" ry="8" stroke="#000" stroke-width="1.35" fill="#fff" transform="rotate(15 611 492)" />
<ellipse cx="614" cy="441" rx="7" ry="10" stroke="#000" stroke-width="1.35" fill="#fff" transform="rotate(20 614 441)" />
<polygon points="622,348 640,356 645,368 630,365" stroke="#000" stroke-width="1.35" fill="#fff" stroke-linejoin="round" />
<ellipse cx="640" cy="360" rx="5" ry="8" stroke="#000" stroke-width="1.35" fill="#fff" transform="rotate(30 640 360)" />
<ellipse cx="626" cy="380" rx="9" ry="4.5" stroke="#000" stroke-width="1.62" fill="#fff" />
<rect x="620" y="371" width="12" height="9" fill="#fff" stroke="#000" stroke-width="1.35"/>
<ellipse cx="626" cy="376" rx="6.5" ry="3.2" stroke="#000" stroke-width="1.35" fill="#fff" />
<rect x="622" y="363" width="8" height="10" fill="#fff" stroke="#000" stroke-width="1.35"/>
<ellipse cx="626" cy="363.5" rx="4" ry="2" stroke="#000" stroke-width="1.35" fill="#fff" />
<ellipse cx="661.2" cy="448.9" rx="71" ry="41.2" stroke="#000" stroke-width="1.49" fill="#fff" transform="rotate(-59.8 661.2 448.9)" />
<polygon points="701.2,390 696.9,387.5 625.5,510.2 629.8,512.8" stroke="#000" stroke-width="0.00" fill="#fff" stroke-linejoin="round" stroke="none"/>
<line x1="701.2" y1="390" x2="696.9" y2="387.5" stroke="#000" stroke-width="1.49" />
<line x1="629.8" y1="512.8" x2="625.5" y2="510.2" stroke="#000" stroke-width="1.49" />
<ellipse cx="665.5" cy="451.4" rx="71" ry="41.2" stroke="#000" stroke-width="1.49" fill="#fff" transform="rotate(-59.8 665.5 451.4)" />
<ellipse cx="690" cy="397.3" rx="3.4" ry="2.1" stroke="#000" stroke-width="1.35" fill="#fff" transform="rotate(-59.8 690 397.3)" />
<ellipse cx="708" cy="429.7" rx="3.4" ry="2.1" stroke="#000" stroke-width="1.35" fill="#fff" transform="rotate(-59.8 708 429.7)" />
<ellipse cx="686.7" cy="481.7" rx="3.4" ry="2.1" stroke="#000" stroke-width="1.35" fill="#fff" transform="rotate(-59.8 686.7 481.7)" />
<ellipse cx="648.1" cy="506.1" rx="3.4" ry="2.1" stroke="#000" stroke-width="1.35" fill="#fff" transform="rotate(-59.8 648.1 506.1)" />
<ellipse cx="623.1" cy="480.7" rx="3.4" ry="2.1" stroke="#000" stroke-width="1.35" fill="#fff" transform="rotate(-59.8 623.1 480.7)" />
<ellipse cx="644.9" cy="420.3" rx="3.4" ry="2.1" stroke="#000" stroke-width="1.35" fill="#fff" transform="rotate(-59.8 644.9 420.3)" />
<ellipse cx="670.1" cy="406.6" rx="4.6" ry="3.3" stroke="#000" stroke-width="1.49" fill="#fff" transform="rotate(-59.8 670.1 406.6)" />
<ellipse cx="669" cy="453.4" rx="44" ry="25.5" stroke="#000" stroke-width="1.49" fill="#fff" transform="rotate(-59.8 669 453.4)" />
<polygon points="694.5,417.4 691.1,415.4 646.8,491.4 650.3,493.5" stroke="#000" stroke-width="0.00" fill="#fff" stroke-linejoin="round" stroke="none"/>
<line x1="694.5" y1="417.4" x2="691.1" y2="415.4" stroke="#000" stroke-width="1.49" />
<line x1="650.3" y1="493.5" x2="646.8" y2="491.4" stroke="#000" stroke-width="1.49" />
<ellipse cx="672.4" cy="455.4" rx="44" ry="25.5" stroke="#000" stroke-width="1.49" fill="#fff" transform="rotate(-59.8 672.4 455.4)" />
<ellipse cx="672.4" cy="455.4" rx="39" ry="22.6" stroke="#000" stroke-width="1.35" fill="none" transform="rotate(-59.8 672.4 455.4)" />
<ellipse cx="674.4" cy="456" rx="31" ry="18" stroke="#000" stroke-width="1.62" fill="#fff" transform="rotate(-59.8 674.4 456)" />
<polygon points="698.6,434.2 690,429.2 658.8,482.8 667.4,487.8" stroke="#000" stroke-width="0.00" fill="#fff" stroke-linejoin="round" stroke="none"/>
<line x1="698.6" y1="434.2" x2="690" y2="429.2" stroke="#000" stroke-width="1.62" />
<line x1="667.4" y1="487.8" x2="658.8" y2="482.8" stroke="#000" stroke-width="1.62" />
<ellipse cx="683" cy="461" rx="31" ry="18" stroke="#000" stroke-width="1.62" fill="#fff" transform="rotate(-59.8 683 461)" />
<ellipse cx="683" cy="461" rx="29.5" ry="17.1" stroke="#000" stroke-width="2.43" fill="#fff" transform="rotate(-59.8 683 461)" />
<ellipse cx="683" cy="461" rx="27" ry="15.7" stroke="#000" stroke-width="1.35" fill="none" transform="rotate(-59.8 683 461)" />
<ellipse cx="413.5" cy="553.5" rx="31" ry="18" stroke="#000" stroke-width="1.49" fill="#fff" transform="rotate(-59.8 413.5 553.5)" />
<ellipse cx="413.5" cy="553.5" rx="27.5" ry="15.9" stroke="#000" stroke-width="1.22" fill="none" transform="rotate(-59.8 413.5 553.5)" />
<ellipse cx="428.2" cy="528.2" rx="1" ry="1" stroke="#000" stroke-width="0.81" fill="#000" />
<ellipse cx="431" cy="530.5" rx="1" ry="1" stroke="#000" stroke-width="0.81" fill="#000" />
<ellipse cx="432.9" cy="533.8" rx="1" ry="1" stroke="#000" stroke-width="0.81" fill="#000" />
<ellipse cx="434.1" cy="538" rx="1" ry="1" stroke="#000" stroke-width="0.81" fill="#000" />
<ellipse cx="434.3" cy="542.9" rx="1" ry="1" stroke="#000" stroke-width="0.81" fill="#000" />
<ellipse cx="433.6" cy="548.2" rx="1" ry="1" stroke="#000" stroke-width="0.81" fill="#000" />
<ellipse cx="432" cy="553.8" rx="1" ry="1" stroke="#000" stroke-width="0.81" fill="#000" />
<ellipse cx="429.6" cy="559.4" rx="1" ry="1" stroke="#000" stroke-width="0.81" fill="#000" />
<ellipse cx="426.6" cy="564.6" rx="1" ry="1" stroke="#000" stroke-width="0.81" fill="#000" />
<ellipse cx="422.9" cy="569.5" rx="1" ry="1" stroke="#000" stroke-width="0.81" fill="#000" />
<ellipse cx="418.9" cy="573.6" rx="1" ry="1" stroke="#000" stroke-width="0.81" fill="#000" />
<ellipse cx="414.6" cy="576.8" rx="1" ry="1" stroke="#000" stroke-width="0.81" fill="#000" />
<ellipse cx="410.2" cy="579" rx="1" ry="1" stroke="#000" stroke-width="0.81" fill="#000" />
<ellipse cx="406" cy="580.1" rx="1" ry="1" stroke="#000" stroke-width="0.81" fill="#000" />
<ellipse cx="402.1" cy="580" rx="1" ry="1" stroke="#000" stroke-width="0.81" fill="#000" />
<ellipse cx="398.8" cy="578.8" rx="1" ry="1" stroke="#000" stroke-width="0.81" fill="#000" />
<ellipse cx="396" cy="576.5" rx="1" ry="1" stroke="#000" stroke-width="0.81" fill="#000" />
<ellipse cx="394.1" cy="573.2" rx="1" ry="1" stroke="#000" stroke-width="0.81" fill="#000" />
<ellipse cx="392.9" cy="569" rx="1" ry="1" stroke="#000" stroke-width="0.81" fill="#000" />
<ellipse cx="392.7" cy="564.1" rx="1" ry="1" stroke="#000" stroke-width="0.81" fill="#000" />
<ellipse cx="393.4" cy="558.8" rx="1" ry="1" stroke="#000" stroke-width="0.81" fill="#000" />
<ellipse cx="395" cy="553.2" rx="1" ry="1" stroke="#000" stroke-width="0.81" fill="#000" />
<ellipse cx="397.4" cy="547.6" rx="1" ry="1" stroke="#000" stroke-width="0.81" fill="#000" />
<ellipse cx="400.4" cy="542.4" rx="1" ry="1" stroke="#000" stroke-width="0.81" fill="#000" />
<ellipse cx="404.1" cy="537.5" rx="1" ry="1" stroke="#000" stroke-width="0.81" fill="#000" />
<ellipse cx="408.1" cy="533.4" rx="1" ry="1" stroke="#000" stroke-width="0.81" fill="#000" />
<ellipse cx="412.4" cy="530.2" rx="1" ry="1" stroke="#000" stroke-width="0.81" fill="#000" />
<ellipse cx="416.8" cy="528" rx="1" ry="1" stroke="#000" stroke-width="0.81" fill="#000" />
<ellipse cx="421" cy="526.9" rx="1" ry="1" stroke="#000" stroke-width="0.81" fill="#000" />
<ellipse cx="424.9" cy="527" rx="1" ry="1" stroke="#000" stroke-width="0.81" fill="#000" />
<polygon points="425.6,532.8 442.9,540.8 418.7,582.3 401.4,574.2" stroke="#000" stroke-width="0.00" fill="#fff" stroke-linejoin="round" stroke="none"/>
<polyline points="401.4,574.2 400.2,573.4 399.2,572.3 398.3,571.1 397.6,569.6 397,568 396.7,566.2 396.5,564.2 396.5,562.2 396.7,560 397,557.8 397.6,555.5 398.3,553.3 399.2,551 400.3,548.7 401.5,546.5 402.8,544.4 404.2,542.3 405.8,540.4 407.4,538.7 409.1,537.1 410.9,535.6 412.6,534.4 414.4,533.4 416.2,532.6 417.9,532 419.6,531.7 421.3,531.6 422.8,531.8 424.2,532.1 425.6,532.8" stroke="#000" stroke-width="1.49" fill="none" stroke-linejoin="round" />
<line x1="425.6" y1="532.8" x2="442.9" y2="540.8" stroke="#000" stroke-width="1.49" />
<line x1="401.4" y1="574.2" x2="418.7" y2="582.3" stroke="#000" stroke-width="1.49" />
<ellipse cx="430.8" cy="561.6" rx="24" ry="13.9" stroke="#000" stroke-width="1.62" fill="#fff" transform="rotate(-59.8 430.8 561.6)" />
<polyline points="402.1,572.5 401,571 400.1,569.1 399.5,567 399.3,564.6 399.3,562 399.7,559.2 400.3,556.4 401.3,553.6 402.5,550.7 403.9,547.9 405.6,545.3 407.5,542.8 409.5,540.6 411.7,538.6 413.9,537 416.1,535.7 418.3,534.7 420.5,534.2 422.5,534" stroke="#000" stroke-width="1.22" fill="none" stroke-linejoin="round" />
<line x1="399.6" y1="569.5" x2="409.1" y2="575" stroke="#000" stroke-width="1.35" />
<line x1="399.6" y1="559.3" x2="409.1" y2="564.8" stroke="#000" stroke-width="1.35" />
<line x1="404.1" y1="548" x2="413.6" y2="553.5" stroke="#000" stroke-width="1.35" />
<line x1="411.7" y1="538.6" x2="421.2" y2="544.1" stroke="#000" stroke-width="1.35" />
<line x1="420.5" y1="533.5" x2="430" y2="539.1" stroke="#000" stroke-width="1.35" />
<line x1="408.9" y1="576.9" x2="418.4" y2="582.4" stroke="#000" stroke-width="1.35" />
<line x1="417.5" y1="573.7" x2="427.1" y2="579.2" stroke="#000" stroke-width="1.35" />
<line x1="446.2" y1="544.5" x2="438.5" y2="539.9" stroke="#000" stroke-width="1.35" />
<line x1="447.8" y1="553.6" x2="440" y2="549.1" stroke="#000" stroke-width="1.35" />
<line x1="444.7" y1="564.9" x2="437" y2="560.3" stroke="#000" stroke-width="1.35" />
<line x1="436.1" y1="566.2" x2="474.6" y2="589.4" stroke="#000" stroke-width="1.49" />
<polyline points="484.7,630.6 483.2,629.6 482,628.4 481,626.9 480.1,625.1 479.4,623.2 479,621 478.8,618.7 478.8,616.3 479,613.8 479.5,611.1 480.1,608.4 481,605.7 482,603 483.3,600.3 484.7,597.7 486.3,595.2 488,592.7 489.8,590.5 491.8,588.4 493.8,586.5 495.9,584.8 498,583.3 500.1,582.1 502.2,581.2 504.3,580.5 506.3,580.1 508.2,580 510.1,580.2 511.8,580.6 513.3,581.4 514.8,582.4 516,583.6 517,585.1 517.9,586.9 518.6,588.8 519,591 519.2,593.3 519.2,595.7 519,598.2 518.5,600.9 517.9,603.6 517,606.3 516,609 514.7,611.7 513.3,614.3 511.7,616.8 510,619.3 508.2,621.5 506.2,623.6 504.2,625.5 502.1,627.2 500,628.7 497.9,629.9 495.8,630.8 493.7,631.5 491.7,631.9 489.8,632 487.9,631.8 486.2,631.4 484.7,630.6" stroke="#000" stroke-width="1.76" fill="none" stroke-linejoin="round" />
<polyline points="482.6,627.5 480.8,627.4 479,627 477.4,626.4 475.9,625.5 474.6,624.3 473.5,622.9 472.6,621.2 471.9,619.3 471.3,617.2 471.1,615 471,612.6 471.1,610.1 471.5,607.5 472.1,604.8 472.9,602.1 473.9,599.4 475.1,596.7 476.4,594 478,591.5 479.6,589 481.4,586.7 483.3,584.5 485.3,582.6 487.4,580.8 489.5,579.3 491.6,578 493.7,576.9 495.8,576.2 497.8,575.7 499.8,575.5 501.7,575.6 503.4,575.9 505.1,576.6 506.5,577.5 507.8,578.7 508.9,580.1" stroke="#000" stroke-width="1.62" fill="none" stroke-linejoin="round" />
<line x1="484.7" y1="630.6" x2="476.9" y2="626.1" stroke="#000" stroke-width="1.49" />
<line x1="513.3" y1="581.4" x2="505.6" y2="576.8" stroke="#000" stroke-width="1.49" />
<polyline points="506.8,582.3 508.5,582.4 510.1,582.7 511.6,583.3 513,584.1 514.1,585.2 515.2,586.5 516,588 516.7,589.7 517.1,591.6 517.4,593.7 517.5,595.8 517.3,598.1 517,600.5 516.4,603 515.7,605.4 514.8,607.9 513.7,610.4 512.5,612.8 511.1,615.1 509.6,617.4 507.9,619.5 506.2,621.5 504.4,623.2 502.5,624.9 500.6,626.3 498.6,627.4 496.7,628.4 494.8,629.1 493,629.5 491.2,629.7 489.5,629.6 487.9,629.3 486.4,628.7 485,627.9 483.9,626.8 482.8,625.5" stroke="#000" stroke-width="1.22" fill="none" stroke-linejoin="round" />
<line x1="509" y1="580.5" x2="508.1" y2="582.8" stroke="#000" stroke-width="1.08" />
<line x1="511.4" y1="581" x2="510.3" y2="583.3" stroke="#000" stroke-width="1.08" />
<line x1="513.6" y1="582.1" x2="512.3" y2="584.2" stroke="#000" stroke-width="1.08" />
<line x1="515.4" y1="583.7" x2="513.9" y2="585.7" stroke="#000" stroke-width="1.08" />
<line x1="516.9" y1="585.8" x2="515.3" y2="587.6" stroke="#000" stroke-width="1.08" />
<line x1="518" y1="588.3" x2="516.3" y2="589.9" stroke="#000" stroke-width="1.08" />
<line x1="518.6" y1="591.2" x2="516.9" y2="592.5" stroke="#000" stroke-width="1.08" />
<line x1="518.9" y1="594.5" x2="517.1" y2="595.5" stroke="#000" stroke-width="1.08" />
<line x1="518.7" y1="598" x2="516.9" y2="598.7" stroke="#000" stroke-width="1.08" />
<line x1="518.1" y1="601.6" x2="516.4" y2="602" stroke="#000" stroke-width="1.08" />
<line x1="517" y1="605.4" x2="515.4" y2="605.5" stroke="#000" stroke-width="1.08" />
<line x1="515.6" y1="609.2" x2="514.1" y2="608.9" stroke="#000" stroke-width="1.08" />
<line x1="513.8" y1="612.9" x2="512.4" y2="612.3" stroke="#000" stroke-width="1.08" />
<line x1="511.6" y1="616.5" x2="510.5" y2="615.5" stroke="#000" stroke-width="1.08" />
<line x1="509.2" y1="619.8" x2="508.3" y2="618.6" stroke="#000" stroke-width="1.08" />
<line x1="506.6" y1="622.8" x2="505.9" y2="621.3" stroke="#000" stroke-width="1.08" />
<line x1="503.8" y1="625.5" x2="503.4" y2="623.7" stroke="#000" stroke-width="1.08" />
<line x1="500.9" y1="627.7" x2="500.7" y2="625.8" stroke="#000" stroke-width="1.08" />
<line x1="497.9" y1="629.5" x2="498" y2="627.4" stroke="#000" stroke-width="1.08" />
<line x1="495" y1="630.7" x2="495.4" y2="628.5" stroke="#000" stroke-width="1.08" />
<line x1="492.2" y1="631.4" x2="492.8" y2="629.1" stroke="#000" stroke-width="1.08" />
<line x1="489.5" y1="631.5" x2="490.3" y2="629.2" stroke="#000" stroke-width="1.08" />
<polygon points="474,582 496,569 507,575 486,590" stroke="#000" stroke-width="1.49" fill="#fff" stroke-linejoin="round" />
<line x1="480" y1="580" x2="500" y2="569" stroke="#000" stroke-width="1.22" />
<ellipse cx="478.5" cy="585" rx="5" ry="5.5" stroke="#000" stroke-width="1.49" fill="#fff" transform="rotate(-30 478.5 585)" />
<ellipse cx="478.5" cy="585" rx="2.3" ry="2.6" stroke="#000" stroke-width="1.35" fill="#fff" transform="rotate(-30 478.5 585)" />
<line x1="502.3" y1="605.5" x2="510" y2="610" stroke="#000" stroke-width="1.49" />
<line x1="481.2" y1="683.3" x2="510" y2="700.2" stroke="#000" stroke-width="1.49" />
<line x1="521.3" y1="707.6" x2="540" y2="716.6" stroke="#000" stroke-width="1.49" />
<polygon points="464.1,667.8 478.8,676.3 473.2,685.8 458.6,677.3" stroke="#000" stroke-width="1.35" fill="#fff" stroke-linejoin="round" />
<ellipse cx="476" cy="681.1" rx="5.5" ry="3.2" stroke="#000" stroke-width="1.35" fill="#fff" transform="rotate(-59.8 476 681.1)" />
<path d="M467,669.5 Q466.4,675.5 461.5,679" stroke="#000" stroke-width="1.08" fill="none" stroke-linejoin="round" />
<path d="M470,671.2 Q469.4,677.2 464.4,680.7" stroke="#000" stroke-width="1.08" fill="none" stroke-linejoin="round" />
<path d="M472.9,672.9 Q472.3,678.9 467.4,682.4" stroke="#000" stroke-width="1.08" fill="none" stroke-linejoin="round" />
<path d="M475.8,674.6 Q475.2,680.6 470.3,684.1" stroke="#000" stroke-width="1.08" fill="none" stroke-linejoin="round" />
<polygon points="463.5,664.3 461.8,672.8 455.2,678.5 450.5,675.7 452.2,667.2 458.8,661.5" stroke="#000" stroke-width="1.35" fill="#fff" stroke-linejoin="round" />
<polygon points="463.5,664.3 467.8,666.8 466.1,675.3 461.8,672.8" stroke="#000" stroke-width="1.08" fill="#fff" stroke-linejoin="round" />
<polygon points="461.8,672.8 466.1,675.3 459.6,681 455.2,678.5" stroke="#000" stroke-width="1.08" fill="#fff" stroke-linejoin="round" />
<polygon points="455.2,678.5 459.6,681 454.8,678.2 450.5,675.7" stroke="#000" stroke-width="1.08" fill="#fff" stroke-linejoin="round" />
<polygon points="450.5,675.7 454.8,678.2 456.6,669.7 452.2,667.2" stroke="#000" stroke-width="1.08" fill="#fff" stroke-linejoin="round" />
<polygon points="452.2,667.2 456.6,669.7 463.1,664 458.8,661.5" stroke="#000" stroke-width="1.08" fill="#fff" stroke-linejoin="round" />
<polygon points="458.8,661.5 463.1,664 467.8,666.8 463.5,664.3" stroke="#000" stroke-width="1.08" fill="#fff" stroke-linejoin="round" />
<polygon points="463.5,664.3 461.8,672.8 455.2,678.5 450.5,675.7 452.2,667.2 458.8,661.5" stroke="#000" stroke-width="1.35" fill="#fff" stroke-linejoin="round" />
<ellipse cx="516.7" cy="703.6" rx="8" ry="5" stroke="#000" stroke-width="2.97" fill="#fff" transform="rotate(-59.8 516.7 703.6)" />
<ellipse cx="516.7" cy="703.6" rx="3.6" ry="2.2" stroke="#000" stroke-width="1.22" fill="#fff" transform="rotate(-59.8 516.7 703.6)" />
<line x1="856.4" y1="711" x2="856.4" y2="734" stroke="#000" stroke-width="1.49" />
<line x1="856.4" y1="739.6" x2="856.4" y2="877.4" stroke="#000" stroke-width="1.49" />
<line x1="856.4" y1="883" x2="856.4" y2="955.1" stroke="#000" stroke-width="1.49" />
<rect x="851.5" y="695" width="10.4" height="16" rx="2" fill="#fff" stroke="#000" stroke-width="1.35"/>
<path d="M851.5,699 Q856.7,701.5 861.9,699" stroke="#000" stroke-width="1.08" fill="none" stroke-linejoin="round" />
<path d="M851.5,703 Q856.7,705.5 861.9,703" stroke="#000" stroke-width="1.08" fill="none" stroke-linejoin="round" />
<path d="M851.5,707 Q856.7,709.5 861.9,707" stroke="#000" stroke-width="1.08" fill="none" stroke-linejoin="round" />
<polygon points="845.5,687 845.5,692 850.8,697 861.4,697 866.8,692 866.8,687" stroke="#000" stroke-width="1.35" fill="#fff" stroke-linejoin="round" />
<polygon points="845.5,687 850.8,682 861.4,682 866.8,687 861.4,692 850.8,692" stroke="#000" stroke-width="1.49" fill="#fff" stroke-linejoin="round" />
<ellipse cx="855.9" cy="735.5" rx="8" ry="4.5" stroke="#000" stroke-width="2.97" fill="#fff" />
<ellipse cx="855.9" cy="735.5" rx="3.6" ry="2" stroke="#000" stroke-width="1.22" fill="#fff" />
<circle cx="860.5" cy="567" r="9.6" fill="#000"/>
<line x1="625.3" y1="963.8" x2="625.3" y2="1010.1" stroke="#000" stroke-width="1.49" />
<ellipse cx="624.9" cy="1010.1" rx="52.5" ry="31" stroke="#000" stroke-width="2.70" fill="none" />
<polygon points="796.9,745 855.9,760 855.9,869 848,868 834.6,880 827.7,880 827.7,861 820.9,861 820.9,893 815.5,921 796.9,912.8" stroke="#000" stroke-width="1.62" fill="#fff" stroke-linejoin="round" />
<line x1="815.5" y1="758.7" x2="815.5" y2="921" stroke="#000" stroke-width="1.62" />
<polyline points="796.9,751 815.5,758.7" stroke="#000" stroke-width="1.35" fill="none" stroke-linejoin="round" />
<path d="M834.6,880 L862,880 Q870,877 866,871 L855.9,866" stroke="#000" stroke-width="1.49" fill="#fff"/>
<ellipse cx="856.4" cy="873.7" rx="3.5" ry="2.4" stroke="#000" stroke-width="1.35" fill="#fff" />
<path d="M815.5,895 L822,893 Q828,900 826,910 L818,921" stroke="#000" stroke-width="1.49" fill="#fff"/>
<ellipse cx="819.5" cy="910" rx="2.5" ry="3" stroke="#000" stroke-width="1.35" fill="#fff" />
<ellipse cx="833.8" cy="313.2" rx="9.6" ry="5.6" stroke="#000" stroke-width="1.49" fill="#fff" transform="rotate(-59.8 833.8 313.2)" />
<polygon points="886.2,332.6 838.6,304.9 829,321.5 876.5,349.2" stroke="#000" stroke-width="0.00" fill="#fff" stroke-linejoin="round" stroke="none"/>
<line x1="886.2" y1="332.6" x2="838.6" y2="304.9" stroke="#000" stroke-width="1.49" />
<line x1="876.5" y1="349.2" x2="829" y2="321.5" stroke="#000" stroke-width="1.49" />
<line x1="840.2" y1="306.9" x2="883.5" y2="332.1" stroke="#000" stroke-width="1.89" />
<line x1="840.5" y1="308.1" x2="883.8" y2="333.3" stroke="#000" stroke-width="1.08" />
<line x1="840.5" y1="310.7" x2="883.7" y2="335.8" stroke="#000" stroke-width="1.89" />
<line x1="840.2" y1="312.2" x2="883.4" y2="337.3" stroke="#000" stroke-width="1.08" />
<line x1="839.2" y1="315" x2="882.4" y2="340.1" stroke="#000" stroke-width="1.89" />
<line x1="838.3" y1="316.5" x2="881.5" y2="341.6" stroke="#000" stroke-width="1.08" />
<line x1="836.5" y1="318.9" x2="879.7" y2="344" stroke="#000" stroke-width="1.89" />
<line x1="835.3" y1="320" x2="878.5" y2="345.1" stroke="#000" stroke-width="1.08" />
<line x1="833.1" y1="321.4" x2="876.4" y2="346.5" stroke="#000" stroke-width="1.89" />
<line x1="831.9" y1="321.8" x2="875.2" y2="347" stroke="#000" stroke-width="1.08" />
<line x1="830.6" y1="322" x2="873.8" y2="347.1" stroke="#000" stroke-width="1.89" />
<line x1="829.5" y1="321.8" x2="872.8" y2="346.9" stroke="#000" stroke-width="1.08" />
<ellipse cx="833.8" cy="313.2" rx="9.6" ry="5.6" stroke="#000" stroke-width="1.49" fill="#fff" transform="rotate(-59.8 833.8 313.2)" />
<ellipse cx="838.6" cy="304.9" rx="1.3" ry="1.3" stroke="#000" stroke-width="0.81" fill="none" transform="rotate(-59.8 838.6 304.9)" />
<ellipse cx="840.6" cy="309.3" rx="1.3" ry="1.3" stroke="#000" stroke-width="0.81" fill="none" transform="rotate(-59.8 840.6 309.3)" />
<ellipse cx="838.6" cy="316" rx="1.3" ry="1.3" stroke="#000" stroke-width="0.81" fill="none" transform="rotate(-59.8 838.6 316)" />
<ellipse cx="833.8" cy="321" rx="1.3" ry="1.3" stroke="#000" stroke-width="0.81" fill="none" transform="rotate(-59.8 833.8 321)" />
<ellipse cx="829" cy="321.5" rx="1.3" ry="1.3" stroke="#000" stroke-width="0.81" fill="none" transform="rotate(-59.8 829 321.5)" />
<ellipse cx="827" cy="317.1" rx="1.3" ry="1.3" stroke="#000" stroke-width="0.81" fill="none" transform="rotate(-59.8 827 317.1)" />
<ellipse cx="829" cy="310.4" rx="1.3" ry="1.3" stroke="#000" stroke-width="0.81" fill="none" transform="rotate(-59.8 829 310.4)" />
<ellipse cx="833.8" cy="305.4" rx="1.3" ry="1.3" stroke="#000" stroke-width="0.81" fill="none" transform="rotate(-59.8 833.8 305.4)" />
<ellipse cx="881.3" cy="340.9" rx="10" ry="5.8" stroke="#000" stroke-width="1.49" fill="#fff" transform="rotate(-59.8 881.3 340.9)" />
<polygon points="925.3,354.9 886.4,332.2 876.3,349.5 915.2,372.1" stroke="#000" stroke-width="0.00" fill="#fff" stroke-linejoin="round" stroke="none"/>
<line x1="925.3" y1="354.9" x2="886.4" y2="332.2" stroke="#000" stroke-width="1.49" />
<line x1="915.2" y1="372.1" x2="876.3" y2="349.5" stroke="#000" stroke-width="1.49" />
<ellipse cx="881.3" cy="340.9" rx="10" ry="5.8" stroke="#000" stroke-width="1.35" fill="none" transform="rotate(-59.8 881.3 340.9)" />
<polygon points="891.7,343 915.9,357.1 914.1,360.1 889.9,346" stroke="#000" stroke-width="1.35" fill="#fff" stroke-linejoin="round" />
<line x1="890.8" y1="344.4" x2="915" y2="358.5" stroke="#000" stroke-width="0.94" />
<ellipse cx="920.2" cy="363.5" rx="12.5" ry="7.2" stroke="#000" stroke-width="1.49" fill="#fff" transform="rotate(-59.8 920.2 363.5)" />
<polygon points="985.3,386.9 926.5,352.7 913.9,374.3 972.7,408.5" stroke="#000" stroke-width="0.00" fill="#fff" stroke-linejoin="round" stroke="none"/>
<line x1="985.3" y1="386.9" x2="926.5" y2="352.7" stroke="#000" stroke-width="1.49" />
<line x1="972.7" y1="408.5" x2="913.9" y2="374.3" stroke="#000" stroke-width="1.49" />
<polyline points="914,359.9 915,358.2 916.2,356.7 917.5,355.3 918.9,354.2 920.2,353.3 921.6,352.6 923,352.2 924.3,352.1 925.5,352.3 926.5,352.7 927.4,353.4 928.1,354.4 928.7,355.5 929,356.9 929.1,358.4 929,360.1 928.7,361.8 928.1,363.6 927.4,365.4 926.5,367.1" stroke="#000" stroke-width="1.35" fill="none" stroke-linejoin="round" />
<ellipse cx="977.3" cy="396.7" rx="16.5" ry="9.6" stroke="#000" stroke-width="1.49" fill="#fff" transform="rotate(-59.8 977.3 396.7)" />
<polygon points="1001.1,391.5 985.6,382.4 969,411 984.5,420" stroke="#000" stroke-width="0.00" fill="#fff" stroke-linejoin="round" stroke="none"/>
<line x1="1001.1" y1="391.5" x2="985.6" y2="382.4" stroke="#000" stroke-width="1.49" />
<line x1="984.5" y1="420" x2="969" y2="411" stroke="#000" stroke-width="1.49" />
<ellipse cx="992.8" cy="405.8" rx="16.5" ry="9.6" stroke="#000" stroke-width="1.49" fill="#fff" transform="rotate(-59.8 992.8 405.8)" />
<polyline points="989,403.5 987.6,405.7 986,407.7 984.3,409.5 982.5,411 980.7,412.2 978.9,413.1 977.1,413.6 975.4,413.8 973.8,413.6 972.4,413 971.2,412 970.3,410.8 969.6,409.2 969.2,407.4 969,405.4 969.2,403.2 969.6,400.9 970.3,398.5 971.3,396.2 972.5,393.9" stroke="#000" stroke-width="1.35" fill="none" stroke-linejoin="round" />
<ellipse cx="992.8" cy="405.8" rx="13" ry="7.5" stroke="#000" stroke-width="1.49" fill="none" transform="rotate(-59.8 992.8 405.8)" />
<path d="M899.1,295.7 L919.9,307.8 A3.2,3.2 0 0 1 916.6,313.3 L895.9,301.3 A3.2,3.2 0 0 1 899.1,295.7 Z" fill="#fff" stroke="#000" stroke-width="1.62"/>
<line x1="896.9" y1="303.5" x2="917.6" y2="315.5" stroke="#000" stroke-width="1.35" />
<ellipse cx="1036" cy="430" rx="22" ry="12.8" stroke="#000" stroke-width="1.62" fill="none" transform="rotate(-59.8 1036 430)" />
<ellipse cx="1036" cy="430" rx="19.5" ry="11.3" stroke="#000" stroke-width="1.49" fill="none" transform="rotate(-59.8 1036 430)" />
<path d="M1021,436 l-4,2 l2,5 l4,-1" stroke="#000" stroke-width="1.76" fill="none" stroke-linejoin="round" />
<ellipse cx="1084.4" cy="457.5" rx="34" ry="19.7" stroke="#000" stroke-width="1.49" fill="#fff" transform="rotate(-59.8 1084.4 457.5)" />
<polygon points="1110.1,433.1 1101.5,428.1 1067.3,486.9 1075.9,491.9" stroke="#000" stroke-width="0.00" fill="#fff" stroke-linejoin="round" stroke="none"/>
<line x1="1110.1" y1="433.1" x2="1101.5" y2="428.1" stroke="#000" stroke-width="1.49" />
<line x1="1075.9" y1="491.9" x2="1067.3" y2="486.9" stroke="#000" stroke-width="1.49" />
<ellipse cx="1093" cy="462.5" rx="34" ry="19.7" stroke="#000" stroke-width="1.49" fill="#fff" transform="rotate(-59.8 1093 462.5)" />
<ellipse cx="1093" cy="462.5" rx="30.6" ry="17.7" stroke="#000" stroke-width="1.22" fill="none" transform="rotate(-59.8 1093 462.5)" />
<ellipse cx="1093" cy="462.5" rx="25.2" ry="14.6" stroke="#000" stroke-width="1.76" fill="none" transform="rotate(-59.8 1093 462.5)" />
<ellipse cx="1093" cy="462.5" rx="22.4" ry="13" stroke="#000" stroke-width="1.35" fill="none" transform="rotate(-59.8 1093 462.5)" />
<ellipse cx="1093" cy="462.5" rx="19" ry="11" stroke="#000" stroke-width="1.62" fill="#fff" transform="rotate(-59.8 1093 462.5)" />
<polyline points="1095.3,442.1 1097.1,444.9 1097.9,448.8 1097.5,453.3 1096.2,458.2 1093.9,463 1090.9,467.4 1087.3,471 1083.5,473.5 1079.8,474.7 1076.4,474.6" stroke="#000" stroke-width="1.22" fill="none" stroke-linejoin="round" />
<ellipse cx="1135.1" cy="489" rx="33" ry="19.1" stroke="#000" stroke-width="1.62" fill="none" transform="rotate(-59.8 1135.1 489)" />
<ellipse cx="1137.3" cy="490.3" rx="33" ry="19.1" stroke="#000" stroke-width="1.62" fill="none" transform="rotate(-59.8 1137.3 490.3)" />
<ellipse cx="1137.3" cy="490.3" rx="27.5" ry="15.9" stroke="#000" stroke-width="1.62" fill="none" transform="rotate(-59.8 1137.3 490.3)" />
<line x1="1264.8" y1="427.4" x2="1264.8" y2="506.6" stroke="#000" stroke-width="1.49" />
<polyline points="1393.5,506.5 1373.4,519 1348.8,533.1" stroke="#000" stroke-width="1.49" fill="none" stroke-linejoin="round" />
<polyline points="1373.4,519 1373.8,534.1 1352.4,546.6" stroke="#000" stroke-width="1.49" fill="none" stroke-linejoin="round" />
<ellipse cx="1226" cy="540" rx="70" ry="40.6" stroke="#000" stroke-width="0.00" fill="#fff" transform="rotate(-59.8 1226 540)" stroke="none"/>
<polygon points="1262.3,487.6 1332.9,528.3 1269.1,638.1 1198.4,597.4" stroke="#000" stroke-width="0.00" fill="#fff" stroke-linejoin="round" stroke="none"/>
<polyline points="1267.7,485.1 1266.3,483.4 1264.7,482 1263,480.7 1261.2,479.5 1259.3,478.5 1257.4,477.7 1255.3,477.1 1253.1,476.6 1250.9,476.3 1248.6,476.2 1246.3,476.2 1243.9,476.4 1241.4,476.8 1238.9,477.4 1236.4,478.1 1233.9,479.1 1231.3,480.1 1228.7,481.4 1226.1,482.8 1223.5,484.3 1220.9,486.1 1218.3,487.9 1215.7,489.9 1213.2,492.1 1210.7,494.3 1208.3,496.7 1205.9,499.3 1203.5,501.9 1201.2,504.6 1199,507.4 1196.9,510.4 1194.8,513.4 1192.8,516.4 1190.9,519.6 1189.1,522.8 1187.4,526 1185.8,529.3 1184.4,532.6 1183,535.9 1181.7,539.3 1180.6,542.6 1179.6,546 1178.7,549.3 1178,552.6 1177.4,555.8 1176.9,559 1176.6,562.2 1176.4,565.3 1176.3,568.3 1176.4,571.3 1176.6,574.2 1176.9,576.9 1177.4,579.6 1178,582.2 1178.7,584.6 1179.6,587 1180.6,589.2 1181.7,591.2 1182.9,593.2 1184.3,594.9 1185.7,596.6 1187.3,598 1189,599.3 1190.8,600.5 1192.7,601.5 1194.6,602.3 1196.7,602.9 1198.9,603.4 1201.1,603.7 1203.4,603.8 1205.7,603.8 1208.1,603.6" stroke="#000" stroke-width="1.62" fill="none" stroke-linejoin="round" />
<polyline points="1266.6,486.7 1265.1,485.3 1263.5,483.9 1261.8,482.8 1260,481.8 1258.2,480.9 1256.2,480.2 1254.2,479.7 1252.1,479.4 1249.9,479.2 1247.6,479.2 1245.3,479.4 1243,479.7 1240.6,480.2 1238.2,480.8 1235.7,481.7 1233.2,482.7 1230.7,483.8 1228.2,485.1 1225.7,486.6 1223.2,488.2 1220.7,489.9 1218.2,491.8 1215.8,493.8 1213.4,496 1211,498.3 1208.6,500.6 1206.4,503.1 1204.1,505.7 1202,508.4 1199.9,511.2 1197.9,514.1 1195.9,517 1194.1,520 1192.3,523.1 1190.6,526.2 1189.1,529.4 1187.6,532.6 1186.3,535.8 1185,539 1183.9,542.2 1182.9,545.4 1182,548.6 1181.2,551.8 1180.6,555 1180.1,558.1 1179.7,561.2 1179.5,564.2 1179.4,567.1 1179.4,570 1179.5,572.8 1179.8,575.5 1180.2,578.1 1180.8,580.6 1181.4,583 1182.2,585.3 1183.1,587.5 1184.2,589.5 1185.3,591.4 1186.6,593.2 1188,594.8 1189.5,596.3 1191.1,597.6 1192.8,598.7 1194.5,599.7 1196.4,600.6 1198.4,601.3 1200.4,601.8 1202.5,602.1 1204.7,602.3" stroke="#000" stroke-width="1.35" fill="none" stroke-linejoin="round" />
<polyline points="1259.4,486.2 1257.5,485.6 1255.6,485.1 1253.6,484.8 1251.6,484.6 1249.4,484.6 1247.3,484.8 1245.1,485.1 1242.8,485.5 1240.5,486.2 1238.2,486.9 1235.9,487.9 1233.5,488.9 1231.2,490.2 1228.8,491.5 1226.5,493 1224.1,494.7 1221.8,496.5 1219.5,498.4 1217.2,500.4 1215,502.5 1212.8,504.8 1210.6,507.1 1208.5,509.6 1206.5,512.1 1204.5,514.7 1202.6,517.4 1200.8,520.2 1199.1,523 1197.4,525.9 1195.8,528.8 1194.4,531.8 1193,534.8 1191.7,537.8 1190.5,540.8 1189.5,543.9 1188.5,546.9 1187.7,549.9 1187,552.9 1186.4,555.9 1185.9,558.8 1185.6,561.7 1185.3,564.5 1185.2,567.3 1185.3,570 1185.4,572.6 1185.7,575.2 1186,577.7 1186.5,580 1187.2,582.3 1187.9,584.4 1188.8,586.5 1189.8,588.4 1190.8,590.2 1192,591.8 1193.3,593.3 1194.7,594.7 1196.2,596 1197.8,597.1 1199.5,598 1201.3,598.8 1203.1,599.4" stroke="#000" stroke-width="1.35" fill="none" stroke-linejoin="round" />
<line x1="1262.3" y1="487.6" x2="1332.9" y2="528.3" stroke="#000" stroke-width="1.49" />
<line x1="1198.4" y1="597.4" x2="1269.1" y2="638.1" stroke="#000" stroke-width="1.49" />
<polygon points="1186,532.6 1194,528.6 1206,533.6 1200,552 1188,549" stroke="#000" stroke-width="1.35" fill="#fff" stroke-linejoin="round" />
<ellipse cx="1202" cy="541.8" rx="4" ry="8" stroke="#000" stroke-width="1.35" fill="#fff" transform="rotate(20 1202 541.8)" />
<polygon points="1186,585 1194,581 1205,586 1199,603 1188,600" stroke="#000" stroke-width="1.35" fill="#fff" stroke-linejoin="round" />
<ellipse cx="1201" cy="593.5" rx="4" ry="8" stroke="#000" stroke-width="1.35" fill="#fff" transform="rotate(20 1201 593.5)" />
<polygon points="1262,486 1271,481 1283,488 1282,500 1273,497" stroke="#000" stroke-width="1.35" fill="#fff" stroke-linejoin="round" />
<ellipse cx="1278" cy="492" rx="4.5" ry="7" stroke="#000" stroke-width="1.35" fill="#fff" transform="rotate(20 1278 492)" />
<ellipse cx="1252" cy="573" rx="6.5" ry="9.5" stroke="#000" stroke-width="1.35" fill="#fff" transform="rotate(20 1252 573)" />
<polygon points="1201,601 1201,612 1244,628 1248,622" stroke="#000" stroke-width="1.35" fill="#fff" stroke-linejoin="round" />
<ellipse cx="1213.6" cy="610.5" rx="3.8" ry="2.3" stroke="#000" stroke-width="1.35" fill="#fff" />
<ellipse cx="1264.8" cy="509.7" rx="8" ry="4.8" stroke="#000" stroke-width="1.49" fill="#fff" transform="rotate(-59.8 1264.8 509.7)" />
<ellipse cx="1264.8" cy="508.7" rx="5.5" ry="3" stroke="#000" stroke-width="1.35" fill="#fff" transform="rotate(-59.8 1264.8 508.7)" />
<ellipse cx="1297.5" cy="581.2" rx="71" ry="41.2" stroke="#000" stroke-width="1.62" fill="#fff" transform="rotate(-59.8 1297.5 581.2)" />
<polygon points="1336.7,521.8 1333.3,519.8 1261.8,642.6 1265.3,644.6" stroke="#000" stroke-width="0.00" fill="#fff" stroke-linejoin="round" stroke="none"/>
<line x1="1336.7" y1="521.8" x2="1333.3" y2="519.8" stroke="#000" stroke-width="1.62" />
<line x1="1265.3" y1="644.6" x2="1261.8" y2="642.6" stroke="#000" stroke-width="1.62" />
<ellipse cx="1301" cy="583.2" rx="71" ry="41.2" stroke="#000" stroke-width="1.62" fill="#fff" transform="rotate(-59.8 1301 583.2)" />
<ellipse cx="1280.2" cy="551.8" rx="3.2" ry="1.9" stroke="#000" stroke-width="1.35" fill="#fff" transform="rotate(-59.8 1280.2 551.8)" />
<ellipse cx="1263.1" cy="581.6" rx="3.2" ry="1.9" stroke="#000" stroke-width="1.35" fill="#fff" transform="rotate(-59.8 1263.1 581.6)" />
<ellipse cx="1324.5" cy="528.4" rx="3.2" ry="1.9" stroke="#000" stroke-width="1.35" fill="#fff" transform="rotate(-59.8 1324.5 528.4)" />
<ellipse cx="1344" cy="559.6" rx="3.2" ry="1.9" stroke="#000" stroke-width="1.35" fill="#fff" transform="rotate(-59.8 1344 559.6)" />
<ellipse cx="1323.7" cy="612.2" rx="3.2" ry="1.9" stroke="#000" stroke-width="1.35" fill="#fff" transform="rotate(-59.8 1323.7 612.2)" />
<ellipse cx="1282.1" cy="638.4" rx="3.2" ry="1.9" stroke="#000" stroke-width="1.35" fill="#fff" transform="rotate(-59.8 1282.1 638.4)" />
<ellipse cx="1258.1" cy="610.2" rx="3.2" ry="1.9" stroke="#000" stroke-width="1.35" fill="#fff" transform="rotate(-59.8 1258.1 610.2)" />
<ellipse cx="1301" cy="583.2" rx="51" ry="29.6" stroke="#000" stroke-width="1.62" fill="#fff" transform="rotate(-59.8 1301 583.2)" />
<ellipse cx="1299.3" cy="582.2" rx="49.5" ry="28.7" stroke="#000" stroke-width="1.08" fill="none" transform="rotate(-59.8 1299.3 582.2)" />
<line x1="1276.6" y1="572.9" x2="1323.7" y2="597.3" stroke="#000" stroke-width="1.35" />
<ellipse cx="1287" cy="602" rx="21" ry="19" stroke="#000" stroke-width="1.35" fill="none" />
<line x1="1273" y1="623.7" x2="1314" y2="610.5" stroke="#000" stroke-width="1.35" />
<rect x="1261" y="395" width="8" height="32" fill="#fff" stroke="#000" stroke-width="1.49"/>
<polygon points="1259,385 1259,398 1271,398 1271,385" stroke="#000" stroke-width="1.49" fill="#fff" stroke-linejoin="round" />
<ellipse cx="1265" cy="385" rx="6" ry="2.5" stroke="#000" stroke-width="1.49" fill="#fff" />
<rect x="1261" y="380" width="8" height="6" fill="#fff" stroke="#000" stroke-width="1.35"/>
<line x1="1259" y1="391" x2="1271" y2="391" stroke="#000" stroke-width="1.08" />
<ellipse cx="1264.8" cy="450" rx="8.5" ry="4.5" stroke="#000" stroke-width="2.70" fill="#fff" />
<ellipse cx="1264.8" cy="450" rx="4.5" ry="2" stroke="#000" stroke-width="1.22" fill="#fff" />
<ellipse cx="1403.4" cy="501.5" rx="6.3" ry="3.7" stroke="#000" stroke-width="1.49" fill="#fff" transform="rotate(60 1403.4 501.5)" />
<polygon points="1399.7,511 1406.6,507 1400.3,496 1393.3,500" stroke="#000" stroke-width="0.00" fill="#fff" stroke-linejoin="round" stroke="none"/>
<line x1="1399.7" y1="511" x2="1406.6" y2="507" stroke="#000" stroke-width="1.49" />
<line x1="1393.3" y1="500" x2="1400.3" y2="496" stroke="#000" stroke-width="1.49" />
<ellipse cx="1399.6" cy="503.7" rx="6.3" ry="3.7" stroke="#000" stroke-width="1.08" fill="none" transform="rotate(60 1399.6 503.7)" />
<ellipse cx="1401.3" cy="502.7" rx="6.3" ry="3.7" stroke="#000" stroke-width="1.08" fill="none" transform="rotate(60 1401.3 502.7)" />
<ellipse cx="1396.5" cy="505.5" rx="6.3" ry="3.7" stroke="#000" stroke-width="1.49" fill="#fff" transform="rotate(60 1396.5 505.5)" />
<ellipse cx="1378.9" cy="631.5" rx="51.5" ry="29.9" stroke="#000" stroke-width="1.49" fill="none" transform="rotate(-59.8 1378.9 631.5)" />
<ellipse cx="1378.9" cy="631.5" rx="50" ry="29" stroke="#000" stroke-width="1.49" fill="none" transform="rotate(-59.8 1378.9 631.5)" />
<ellipse cx="1458.5" cy="681" rx="70" ry="40.6" stroke="#000" stroke-width="1.49" fill="#fff" transform="rotate(-59.8 1458.5 681)" />
<polygon points="1497.2,622.5 1493.8,620.5 1423.3,741.5 1426.8,743.5" stroke="#000" stroke-width="0.00" fill="#fff" stroke-linejoin="round" stroke="none"/>
<line x1="1497.2" y1="622.5" x2="1493.8" y2="620.5" stroke="#000" stroke-width="1.49" />
<line x1="1426.8" y1="743.5" x2="1423.3" y2="741.5" stroke="#000" stroke-width="1.49" />
<ellipse cx="1462" cy="683" rx="70" ry="40.6" stroke="#000" stroke-width="1.49" fill="#fff" transform="rotate(-59.8 1462 683)" />
<ellipse cx="1484.6" cy="628.5" rx="3.4" ry="2.1" stroke="#000" stroke-width="1.35" fill="#fff" transform="rotate(-59.8 1484.6 628.5)" />
<ellipse cx="1504.6" cy="660.4" rx="3.4" ry="2.1" stroke="#000" stroke-width="1.35" fill="#fff" transform="rotate(-59.8 1504.6 660.4)" />
<ellipse cx="1481.9" cy="714.9" rx="3.4" ry="2.1" stroke="#000" stroke-width="1.35" fill="#fff" transform="rotate(-59.8 1481.9 714.9)" />
<ellipse cx="1439.4" cy="737.5" rx="3.4" ry="2.1" stroke="#000" stroke-width="1.35" fill="#fff" transform="rotate(-59.8 1439.4 737.5)" />
<ellipse cx="1419.4" cy="705.6" rx="3.4" ry="2.1" stroke="#000" stroke-width="1.35" fill="#fff" transform="rotate(-59.8 1419.4 705.6)" />
<ellipse cx="1442.1" cy="651.1" rx="3.4" ry="2.1" stroke="#000" stroke-width="1.35" fill="#fff" transform="rotate(-59.8 1442.1 651.1)" />
<ellipse cx="1464.2" cy="636.1" rx="4.6" ry="3.3" stroke="#000" stroke-width="1.49" fill="#fff" transform="rotate(-59.8 1464.2 636.1)" />
<ellipse cx="1464.6" cy="684.5" rx="41" ry="23.8" stroke="#000" stroke-width="1.49" fill="#fff" transform="rotate(-59.8 1464.6 684.5)" />
<polygon points="1488.7,651.1 1485.2,649.1 1444,719.9 1447.4,722" stroke="#000" stroke-width="0.00" fill="#fff" stroke-linejoin="round" stroke="none"/>
<line x1="1488.7" y1="651.1" x2="1485.2" y2="649.1" stroke="#000" stroke-width="1.49" />
<line x1="1447.4" y1="722" x2="1444" y2="719.9" stroke="#000" stroke-width="1.49" />
<ellipse cx="1468" cy="686.5" rx="41" ry="23.8" stroke="#000" stroke-width="1.49" fill="#fff" transform="rotate(-59.8 1468 686.5)" />
<ellipse cx="1471.5" cy="688.5" rx="37" ry="21.5" stroke="#000" stroke-width="1.35" fill="none" transform="rotate(-59.8 1471.5 688.5)" />
<ellipse cx="1475" cy="690.5" rx="33.5" ry="19.4" stroke="#000" stroke-width="1.35" fill="none" transform="rotate(-59.8 1475 690.5)" />
<ellipse cx="1470.4" cy="685.5" rx="30" ry="17.4" stroke="#000" stroke-width="1.62" fill="#fff" transform="rotate(-59.8 1470.4 685.5)" />
<polygon points="1492.4,663.6 1485.5,659.5 1455.3,711.4 1462.2,715.4" stroke="#000" stroke-width="0.00" fill="#fff" stroke-linejoin="round" stroke="none"/>
<line x1="1492.4" y1="663.6" x2="1485.5" y2="659.5" stroke="#000" stroke-width="1.62" />
<line x1="1462.2" y1="715.4" x2="1455.3" y2="711.4" stroke="#000" stroke-width="1.62" />
<ellipse cx="1477.3" cy="689.5" rx="30" ry="17.4" stroke="#000" stroke-width="1.62" fill="#fff" transform="rotate(-59.8 1477.3 689.5)" />
<ellipse cx="1477.3" cy="689.5" rx="28.5" ry="16.5" stroke="#000" stroke-width="2.43" fill="#fff" transform="rotate(-59.8 1477.3 689.5)" />
<ellipse cx="1477.3" cy="689.5" rx="26" ry="15.1" stroke="#000" stroke-width="1.35" fill="none" transform="rotate(-59.8 1477.3 689.5)" />
<ellipse cx="1534.8" cy="723.5" rx="27" ry="15.7" stroke="#000" stroke-width="1.62" fill="none" transform="rotate(-59.8 1534.8 723.5)" />
<polygon points="1553.6,703.2 1548.4,700.1 1521.2,746.8 1526.4,749.8" stroke="#000" stroke-width="0.00" fill="none" stroke-linejoin="round" stroke="none"/>
<line x1="1553.6" y1="703.2" x2="1548.4" y2="700.1" stroke="#000" stroke-width="1.62" />
<line x1="1526.4" y1="749.8" x2="1521.2" y2="746.8" stroke="#000" stroke-width="1.62" />
<ellipse cx="1540" cy="726.5" rx="27" ry="15.7" stroke="#000" stroke-width="1.62" fill="none" transform="rotate(-59.8 1540 726.5)" />
<ellipse cx="1540" cy="726.5" rx="24.5" ry="14.2" stroke="#000" stroke-width="1.35" fill="none" transform="rotate(-59.8 1540 726.5)" />
<polyline points="1367.7,755.9 1339,743.6 1494.5,653.6 1468.6,640" stroke="#000" stroke-width="1.49" fill="none" stroke-linejoin="round" />
<ellipse cx="1365.8" cy="758.5" rx="6.2" ry="3.6" stroke="#000" stroke-width="1.35" fill="#fff" transform="rotate(-59.8 1365.8 758.5)" />
<polygon points="1374.1,756.1 1368.9,753.1 1362.7,763.8 1367.9,766.9" stroke="#000" stroke-width="0.00" fill="#fff" stroke-linejoin="round" stroke="none"/>
<line x1="1374.1" y1="756.1" x2="1368.9" y2="753.1" stroke="#000" stroke-width="1.35" />
<line x1="1367.9" y1="766.9" x2="1362.7" y2="763.8" stroke="#000" stroke-width="1.35" />
<ellipse cx="1371" cy="761.5" rx="6.2" ry="3.6" stroke="#000" stroke-width="1.35" fill="#fff" transform="rotate(-59.8 1371 761.5)" />
<ellipse cx="1368.1" cy="759.8" rx="6.2" ry="3.6" stroke="#000" stroke-width="1.08" fill="none" transform="rotate(-59.8 1368.1 759.8)" />
<ellipse cx="1366.9" cy="759.1" rx="6.2" ry="3.6" stroke="#000" stroke-width="1.08" fill="none" transform="rotate(-59.8 1366.9 759.1)" />
<ellipse cx="1371" cy="761.5" rx="6.2" ry="3.6" stroke="#000" stroke-width="1.49" fill="#fff" transform="rotate(-59.8 1371 761.5)" />
<line x1="1441.4" y1="736.8" x2="1460.5" y2="748.5" stroke="#000" stroke-width="1.49" />
<line x1="1470" y1="754" x2="1491.8" y2="765.5" stroke="#000" stroke-width="1.49" />
<ellipse cx="1464.5" cy="750.5" rx="5.2" ry="3.2" stroke="#000" stroke-width="2.70" fill="#fff" transform="rotate(-59.8 1464.5 750.5)" />
<ellipse cx="1464.5" cy="750.5" rx="2.3" ry="1.5" stroke="#000" stroke-width="1.22" fill="#fff" transform="rotate(-59.8 1464.5 750.5)" />
<polygon points="1502.1,767.1 1493.5,762 1489.5,769 1498.1,774" stroke="#000" stroke-width="1.35" fill="#fff" stroke-linejoin="round" />
<ellipse cx="1491.5" cy="765.5" rx="4" ry="2.3" stroke="#000" stroke-width="1.35" fill="#fff" transform="rotate(-59.8 1491.5 765.5)" />
<path d="M1500.4,766.1 Q1496.2,768.3 1496.4,773" stroke="#000" stroke-width="1.08" fill="none" stroke-linejoin="round" />
<path d="M1498.7,765.1 Q1494.5,767.3 1494.6,772" stroke="#000" stroke-width="1.08" fill="none" stroke-linejoin="round" />
<path d="M1496.9,764.1 Q1492.8,766.3 1492.9,771" stroke="#000" stroke-width="1.08" fill="none" stroke-linejoin="round" />
<path d="M1495.2,763.1 Q1491,765.3 1491.2,770" stroke="#000" stroke-width="1.08" fill="none" stroke-linejoin="round" />
<polygon points="1509.1,768.3 1507.8,775 1502.6,779.5 1498.9,777.3 1500.2,770.6 1505.4,766.1" stroke="#000" stroke-width="1.35" fill="#fff" stroke-linejoin="round" />
<polygon points="1509.1,768.3 1505.3,766 1503.9,772.7 1507.8,775" stroke="#000" stroke-width="1.08" fill="#fff" stroke-linejoin="round" />
<polygon points="1507.8,775 1503.9,772.7 1498.7,777.2 1502.6,779.5" stroke="#000" stroke-width="1.08" fill="#fff" stroke-linejoin="round" />
<polygon points="1502.6,779.5 1498.7,777.2 1495,775.1 1498.9,777.3" stroke="#000" stroke-width="1.08" fill="#fff" stroke-linejoin="round" />
<polygon points="1498.9,777.3 1495,775.1 1496.4,768.3 1500.2,770.6" stroke="#000" stroke-width="1.08" fill="#fff" stroke-linejoin="round" />
<polygon points="1500.2,770.6 1496.4,768.3 1501.5,763.8 1505.4,766.1" stroke="#000" stroke-width="1.08" fill="#fff" stroke-linejoin="round" />
<polygon points="1505.4,766.1 1501.5,763.8 1505.3,766 1509.1,768.3" stroke="#000" stroke-width="1.08" fill="#fff" stroke-linejoin="round" />
<polygon points="1505.3,766 1503.9,772.7 1498.7,777.2 1495,775.1 1496.4,768.3 1501.5,763.8" stroke="#000" stroke-width="1.35" fill="#fff" stroke-linejoin="round" />
<line x1="452" y1="88.8" x2="475.2" y2="100.5" stroke="#000" stroke-width="1.49" />
<line x1="510.2" y1="122.8" x2="559.9" y2="151.3" stroke="#000" stroke-width="1.49" />
<line x1="584.7" y1="166.3" x2="692.4" y2="227.2" stroke="#000" stroke-width="1.49" />
<line x1="708" y1="239" x2="753" y2="264" stroke="#000" stroke-width="1.49" />
<line x1="797.7" y1="289.8" x2="833.9" y2="310.2" stroke="#000" stroke-width="1.49" />
<line x1="991" y1="402" x2="1028.2" y2="422" stroke="#000" stroke-width="1.49" />
<line x1="1035" y1="429.9" x2="1065.5" y2="446.8" stroke="#000" stroke-width="1.49" />
<line x1="1100.8" y1="466.5" x2="1120" y2="477.8" stroke="#000" stroke-width="1.49" />
<line x1="1144.8" y1="491.3" x2="1190.3" y2="517.4" stroke="#000" stroke-width="1.49" />
<line x1="1384" y1="636.7" x2="1423.6" y2="657.7" stroke="#000" stroke-width="1.49" />
<line x1="1478.2" y1="690.5" x2="1521.8" y2="715" stroke="#000" stroke-width="1.49" />
<line x1="174.5" y1="59" x2="1263.3" y2="688.1" stroke="#000" stroke-width="1.49" />
<line x1="1263.3" y1="643" x2="1263.3" y2="688.1" stroke="#000" stroke-width="1.49" />
<line x1="106.3" y1="115.5" x2="135" y2="115.5" stroke="#000" stroke-width="1.49" />
<line x1="109" y1="148.4" x2="160" y2="148.4" stroke="#000" stroke-width="1.49" />
<line x1="109" y1="181" x2="159" y2="181" stroke="#000" stroke-width="1.49" />
<line x1="108" y1="217.5" x2="137.8" y2="217.5" stroke="#000" stroke-width="1.49" />
<line x1="206.8" y1="283.3" x2="240.6" y2="283.3" stroke="#000" stroke-width="1.49" />
<line x1="207.6" y1="351.4" x2="241.4" y2="351.4" stroke="#000" stroke-width="1.49" />
<line x1="110.7" y1="395.4" x2="155.9" y2="395.4" stroke="#000" stroke-width="1.49" />
<line x1="195.5" y1="423.8" x2="249" y2="423.8" stroke="#000" stroke-width="1.49" />
<line x1="105.8" y1="458.1" x2="155.9" y2="458.1" stroke="#000" stroke-width="1.49" />
<line x1="48.6" y1="584.7" x2="82" y2="584.7" stroke="#000" stroke-width="1.49" />
<line x1="47.6" y1="627" x2="82" y2="627" stroke="#000" stroke-width="1.49" />
<line x1="257" y1="552" x2="302" y2="552" stroke="#000" stroke-width="1.49" />
<line x1="255" y1="595.7" x2="302" y2="595.7" stroke="#000" stroke-width="1.49" />
<line x1="206" y1="649.4" x2="303.3" y2="649.4" stroke="#000" stroke-width="1.49" />
<line x1="202.7" y1="700.2" x2="241" y2="700.2" stroke="#000" stroke-width="1.49" />
<line x1="204.4" y1="758.2" x2="241" y2="758.2" stroke="#000" stroke-width="1.49" />
<line x1="220" y1="836" x2="241" y2="836" stroke="#000" stroke-width="1.49" />
<line x1="185.3" y1="823" x2="210.5" y2="836" stroke="#000" stroke-width="1.49" />
<line x1="129" y1="896.7" x2="172.6" y2="896.7" stroke="#000" stroke-width="1.49" />
<line x1="209.3" y1="1021.4" x2="231.3" y2="1021.4" stroke="#000" stroke-width="1.49" />
<line x1="453.6" y1="37.3" x2="453.6" y2="68.9" stroke="#000" stroke-width="1.49" />
<line x1="469.1" y1="44.7" x2="506.4" y2="44.7" stroke="#000" stroke-width="1.49" />
<line x1="381.5" y1="134.4" x2="406.3" y2="120.8" stroke="#000" stroke-width="1.49" />
<line x1="414.2" y1="153.6" x2="442.4" y2="137.8" stroke="#000" stroke-width="1.49" />
<line x1="517.4" y1="177.3" x2="517.4" y2="212.3" stroke="#000" stroke-width="1.49" />
<line x1="601.7" y1="44.3" x2="601.7" y2="124.3" stroke="#000" stroke-width="1.49" />
<line x1="657.1" y1="138.3" x2="657.1" y2="180.2" stroke="#000" stroke-width="1.49" />
<line x1="714.8" y1="171.3" x2="714.8" y2="214.5" stroke="#000" stroke-width="1.49" />
<line x1="783.5" y1="191.6" x2="783.5" y2="248" stroke="#000" stroke-width="1.49" />
<line x1="913.4" y1="282" x2="913.4" y2="306.8" stroke="#000" stroke-width="1.49" />
<line x1="907.3" y1="313.5" x2="907.3" y2="340.6" stroke="#000" stroke-width="1.49" />
<line x1="1034.3" y1="355.3" x2="1034.3" y2="413" stroke="#000" stroke-width="1.49" />
<line x1="915.3" y1="372" x2="915.3" y2="418.6" stroke="#000" stroke-width="1.49" />
<line x1="1145" y1="419.7" x2="1145" y2="467" stroke="#000" stroke-width="1.49" />
<line x1="1070" y1="480.7" x2="1070" y2="535.6" stroke="#000" stroke-width="1.49" />
<line x1="1272.6" y1="404.1" x2="1311.4" y2="404.1" stroke="#000" stroke-width="1.49" />
<line x1="1272.6" y1="451.3" x2="1314.5" y2="451.3" stroke="#000" stroke-width="1.49" />
<line x1="1396.7" y1="464.7" x2="1396.7" y2="498.8" stroke="#000" stroke-width="1.49" />
<line x1="1136.9" y1="555.7" x2="1176.4" y2="555.7" stroke="#000" stroke-width="1.49" />
<line x1="870" y1="566.9" x2="915.9" y2="566.9" stroke="#000" stroke-width="1.49" />
<line x1="417.4" y1="479.5" x2="417.4" y2="525" stroke="#000" stroke-width="1.49" />
<line x1="496.5" y1="525" x2="496.5" y2="578.7" stroke="#000" stroke-width="1.49" />
<line x1="1466.7" y1="554" x2="1466.7" y2="627.7" stroke="#000" stroke-width="1.49" />
<line x1="1545" y1="600.5" x2="1545" y2="701.4" stroke="#000" stroke-width="1.49" />
<line x1="1324" y1="694.5" x2="1355.5" y2="676.8" stroke="#000" stroke-width="1.49" />
<line x1="1322.7" y1="787.3" x2="1365" y2="762.7" stroke="#000" stroke-width="1.49" />
<line x1="1437.3" y1="766.8" x2="1461.8" y2="753.2" stroke="#000" stroke-width="1.49" />
<line x1="1471.4" y1="785.9" x2="1500" y2="775" stroke="#000" stroke-width="1.49" />
<line x1="405.6" y1="711.5" x2="459.2" y2="681" stroke="#000" stroke-width="1.49" />
<line x1="456.4" y1="746" x2="512.2" y2="713.8" stroke="#000" stroke-width="1.49" />
<line x1="861.9" y1="702.7" x2="928.7" y2="702.7" stroke="#000" stroke-width="1.49" />
<line x1="864.6" y1="736" x2="928.7" y2="736" stroke="#000" stroke-width="1.49" />
<line x1="838.7" y1="820.9" x2="928.7" y2="820.9" stroke="#000" stroke-width="1.49" />
<line x1="479.5" y1="919.1" x2="533.4" y2="888.3" stroke="#000" stroke-width="1.49" />
<line x1="677.6" y1="1010.5" x2="749" y2="1010.5" stroke="#000" stroke-width="1.49" />
</g>
<defs><filter id="olA" x="-5%" y="-20%" width="110%" height="140%" color-interpolation-filters="sRGB"><feMorphology in="SourceAlpha" operator="dilate" radius="4 1.5" result="d1"/><feMorphology in="SourceAlpha" operator="dilate" radius="5 2.5" result="d2"/><feComposite in="d2" in2="d1" operator="out" result="ring"/><feFlood flood-color="#707070"/><feComposite in2="ring" operator="in"/></filter><filter id="olG" x="-5%" y="-20%" width="110%" height="140%" color-interpolation-filters="sRGB"><feMorphology in="SourceAlpha" operator="dilate" radius="0.6 0.3" result="d1"/><feMorphology in="SourceAlpha" operator="dilate" radius="1.6 1.3" result="d2"/><feComposite in="d2" in2="d1" operator="out" result="ring"/><feFlood flood-color="#707070"/><feComposite in2="ring" operator="in"/></filter><filter id="olT" x="-5%" y="-20%" width="110%" height="140%" color-interpolation-filters="sRGB"><feMorphology in="SourceAlpha" operator="dilate" radius="1.5 0.5" result="d1"/><feMorphology in="SourceAlpha" operator="dilate" radius="2.5 1.5" result="d2"/><feComposite in="d2" in2="d1" operator="out" result="ring"/><feFlood flood-color="#707070"/><feComposite in2="ring" operator="in"/></filter></defs>
<g>
<g filter="url(#olG)"><text x="0" y="0" transform="translate(691,423.6) skewX(-10.3) scale(0.88,1)" font-family="Liberation Sans" font-weight="bold" style="font-size:61px;fill:#000;stroke:none">группа компаний</text></g>
<g filter="url(#olA)"><text x="0" y="0" transform="translate(572,561) skewX(-10.3) scale(0.6,1)" font-family="Liberation Sans" font-weight="bold" style="font-size:176px;fill:#000;stroke:none">А</text></g>
<g filter="url(#olA)"><text x="0" y="0" transform="translate(654,538.5) skewX(-10.3) scale(0.695,1)" font-family="Liberation Sans" font-weight="bold" style="font-size:141px;fill:#000;stroke:none">ГРОСНАБ</text></g>
<g filter="url(#olT)"><text x="0" y="0" transform="translate(714,587.4) skewX(-10.3) scale(1.078,1)" font-family="Liberation Sans" font-weight="bold" style="font-size:72px;fill:#000;stroke:none">техсервис</text></g>
<path d="M503,459 Q531.5,433.4 532,401 Q506.4,420.8 503,459 Z" fill="none" stroke="#707070" stroke-width="1"/>
<path d="M495,502 Q503.6,469.9 489,446 Q479.8,472.5 495,502 Z" fill="none" stroke="#707070" stroke-width="1"/>
<path d="M497,504 Q523.4,490 528,465 Q504.7,475.1 497,504 Z" fill="none" stroke="#707070" stroke-width="1"/>
<path d="M510,558 Q502.2,522.3 476,506 Q480.4,536.5 510,558 Z" fill="none" stroke="#707070" stroke-width="1"/>
<path d="M516,558 Q529.2,529.1 520,504 Q507.2,527.5 516,558 Z" fill="none" stroke="#707070" stroke-width="1"/>
<path d="M551,587 Q551.2,557.2 530,543 Q527.7,568.4 551,587 Z" fill="none" stroke="#707070" stroke-width="1"/>
<path d="M553,589 Q526.1,567.2 497,570 Q518.3,589.9 553,589 Z" fill="none" stroke="#707070" stroke-width="1"/>
<path d="M505,421 C515,405 540,388 567,381 C590,377 615,378 637,389" fill="none" stroke="#707070" stroke-width="1"/>
<path d="M508,426 C520,410 543,394 568,387 C592,383 616,384 636,394" fill="none" stroke="#707070" stroke-width="1"/>
<path d="M531,410 C550,402 565,399 579,399 C600,399 615,402 628,406" fill="none" stroke="#707070" stroke-width="1"/>
<path d="M533,415 C552,407 566,404 580,404 C600,404 614,407 627,411" fill="none" stroke="#707070" stroke-width="1"/>
<path d="M544,430 C556,425 567,422 579,422 C598,422 610,424 621,426" fill="none" stroke="#707070" stroke-width="1"/>
<path d="M546,435 C558,430 568,427 580,427 C598,427 609,429 620,431" fill="none" stroke="#707070" stroke-width="1"/>
<path d="M503,459 C496,430 505,405 530,390" fill="none" stroke="#707070" stroke-width="1"/>
<path d="M489,568 C520,585 550,580 578,574 C600,570 612,572 640,568" fill="none" stroke="#707070" stroke-width="1"/>
<path d="M487,574 C520,592 552,587 580,580 C602,576 614,578 640,574" fill="none" stroke="#707070" stroke-width="1"/>
<path d="M555.4,616.5 L571.2,573 Q610,572 656.6,567.4" fill="none" stroke="#707070" stroke-width="1"/>
<path d="M528,396.8 C503,427 483,470 478,513 C478,556 495,595 528,616.6 C537,623 546,628 554.8,630.9" fill="none" stroke="#707070" stroke-width="1"/>
<path d="M536,404 C512,432 493,472 489,513 C489,553 505,589 535,609 C543,614 550,618 557,621" fill="none" stroke="#707070" stroke-width="1"/>
<path d="M574.4,619.6 L583.9,603.8 L617.8,602.2 L628.1,619.6 L656.6,608.6" fill="none" stroke="#707070" stroke-width="1"/>
</g>
<g style="will-change:opacity" opacity="0.999">
<text x="78" y="123.8">24</text>
<text x="78.4" y="156.8">15</text>
<text x="78.4" y="189.8">16</text>
<text x="78.4" y="225.8">17</text>
<text x="242.3" y="292.3">18</text>
<text x="241.6" y="359.5">8</text>
<text x="85.5" y="402.2">19</text>
<text x="249.4" y="430.8">41</text>
<text x="81.9" y="465.2">19</text>
<text x="303.3" y="560.4">20</text>
<text x="17.3" y="593.8">21</text>
<text x="303.7" y="603.4">21</text>
<text x="17" y="636.2">20</text>
<text x="304.3" y="657.1">22</text>
<text x="241.7" y="708">23</text>
<text x="241.7" y="765.5">37</text>
<text x="241.7" y="843.8">27</text>
<text x="98" y="903.3">26</text>
<text x="232.9" y="1028.8">28</text>
<text x="448.8" y="30.5">3</text>
<text x="506" y="54.5">14</text>
<text x="367" y="151">1</text>
<text x="400.8" y="170.2">2</text>
<text x="511.5" y="234.6">4</text>
<text x="595.4" y="36.2">5</text>
<text x="650.8" y="130.2">8</text>
<text x="709.2" y="163.2">9</text>
<text x="773" y="183.4">29</text>
<text x="909.6" y="273.7">7</text>
<text x="1023.5" y="347.8">10</text>
<text x="911.4" y="439">6</text>
<text x="1139" y="411.4">8</text>
<text x="1062.7" y="556.5">9</text>
<text x="1306.3" y="411.1">12</text>
<text x="1315.6" y="460.8">11</text>
<text x="1385.4" y="460.8">14</text>
<text x="1109.1" y="566.3">13</text>
<text x="917.9" y="576.5">35</text>
<text x="404.7" y="474.9">39</text>
<text x="483.4" y="521.4">38</text>
<text x="1463.5" y="546.8">4</text>
<text x="1531.7" y="593.1">30</text>
<text x="1301.3" y="718.5">5</text>
<text x="1300.3" y="800.3">14</text>
<text x="1424" y="784">2</text>
<text x="1459.8" y="799">1</text>
<text x="376.9" y="722.5">36</text>
<text x="427.1" y="757.5">33</text>
<text x="932.3" y="710.4">32</text>
<text x="934" y="745">33</text>
<text x="933" y="829.1">31</text>
<text x="453" y="932.8">45</text>
<text x="754.1" y="1018.5">34</text>
</g>
</svg></body></html>
